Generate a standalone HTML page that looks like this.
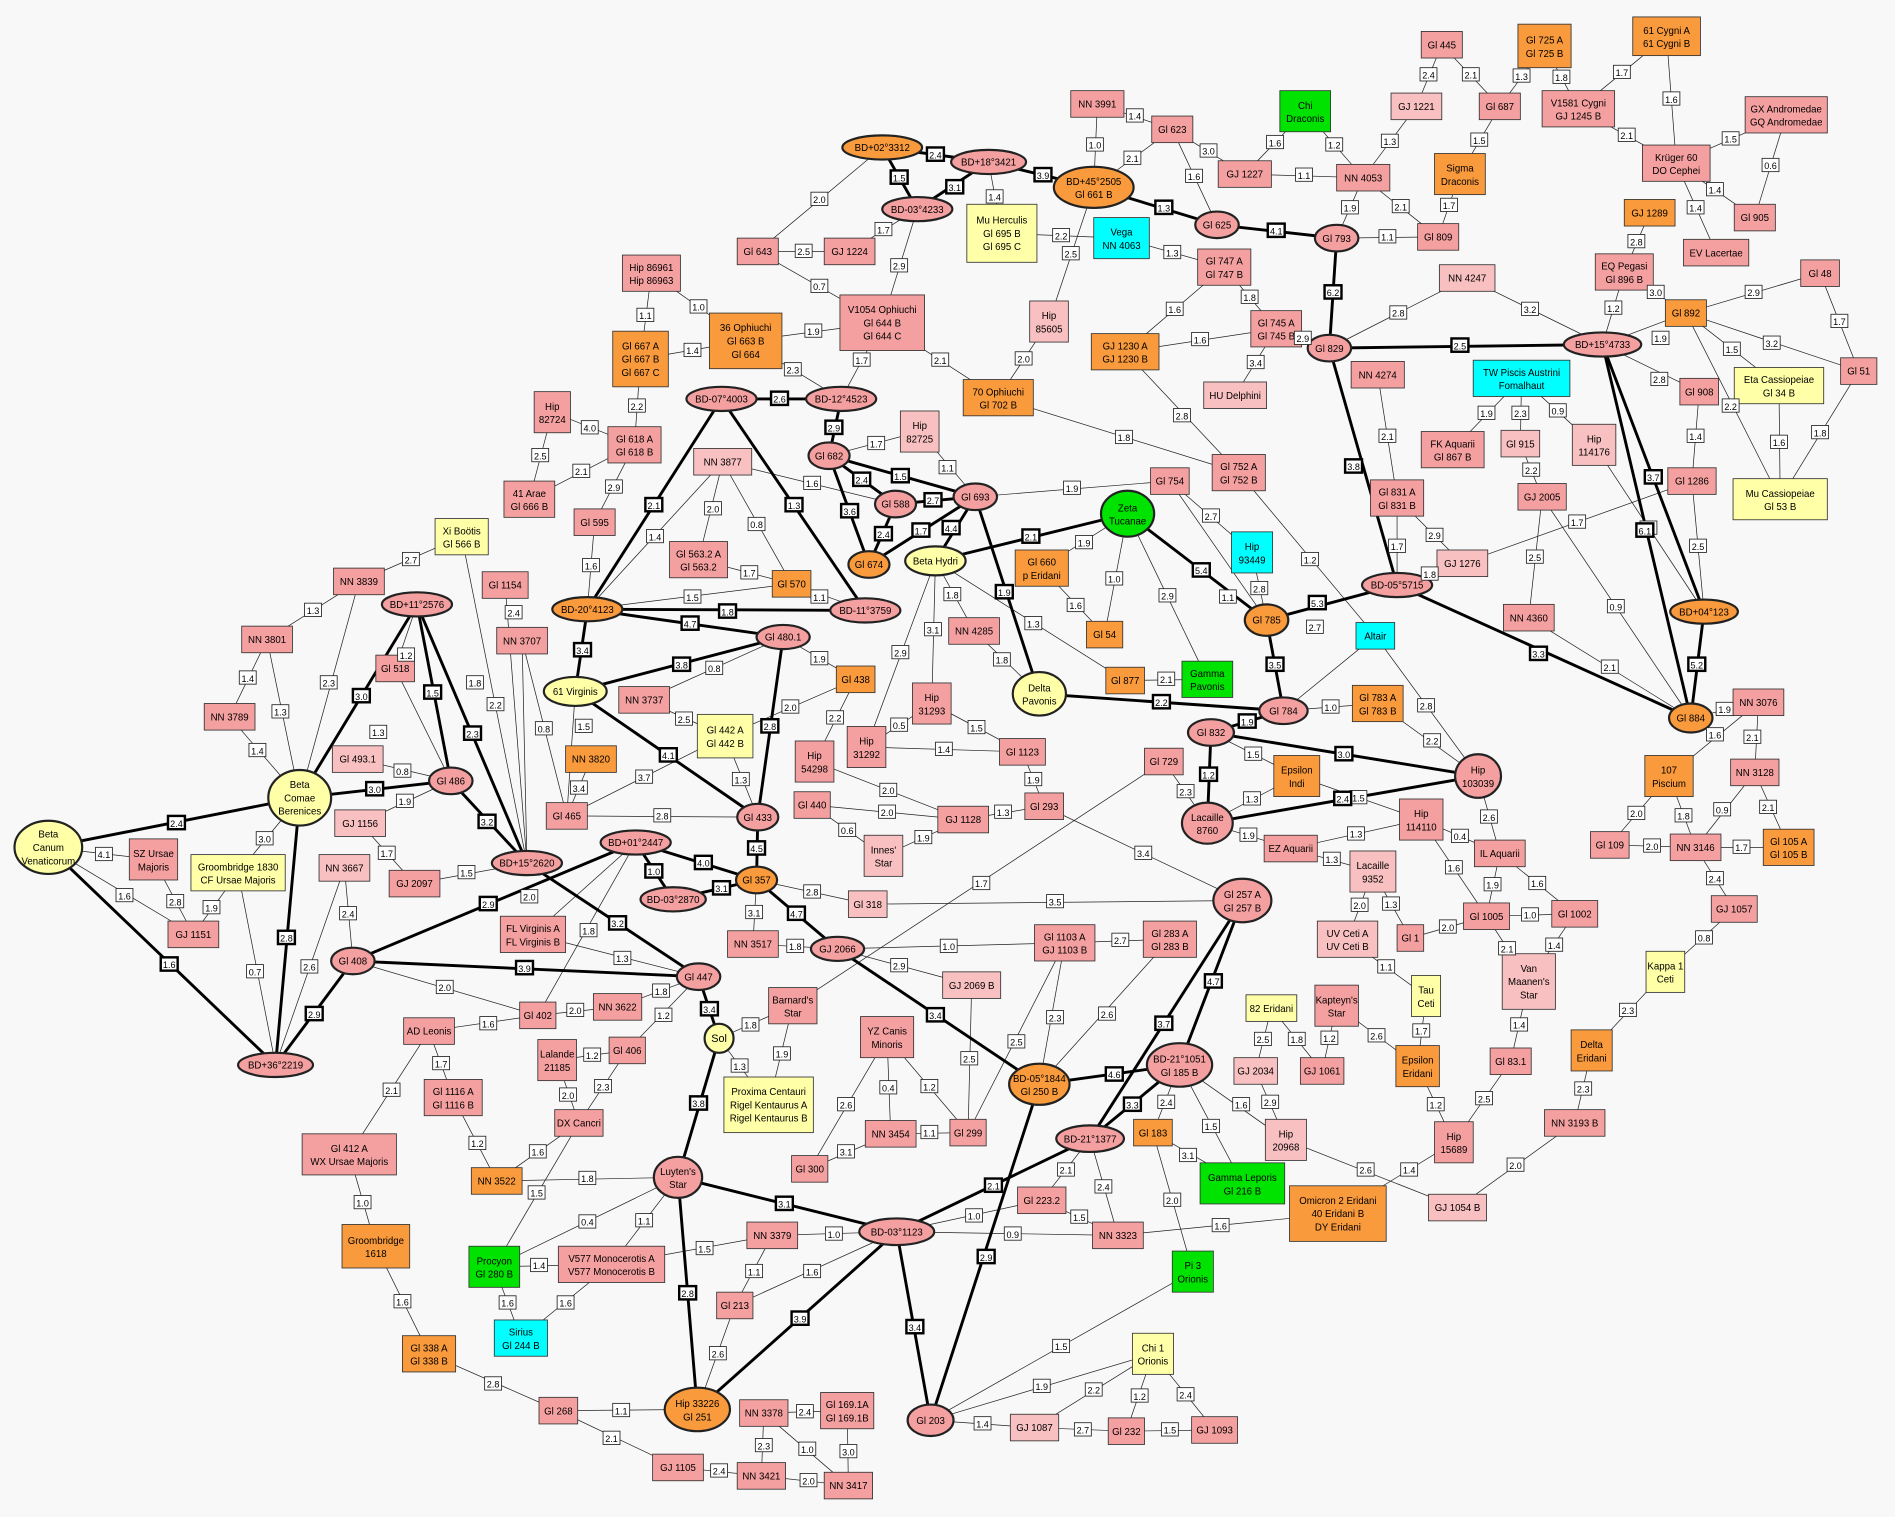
<!DOCTYPE html>
<html><head><meta charset="utf-8"><style>
html,body{margin:0;padding:0;background:#f8f8f8}
svg{display:block}
text{font-family:"Liberation Sans",sans-serif;font-size:8px;text-anchor:middle;fill:#000}
.e line{stroke:#222;stroke-width:.6}
.E line{stroke:#000;stroke-width:2.4}
.l rect{fill:#fff;stroke:#222;stroke-width:.7}
.l text{font-size:7.5px}
.L rect{fill:#fff;stroke:#000;stroke-width:2}
.L text{font-size:7.5px}
.n rect{stroke:#333;stroke-width:.7}
.n ellipse,.n circle{stroke:#222;stroke-width:1.8}
.P{fill:#f5a0a0}.Q{fill:#f8c0c0}.O{fill:#f99a3c}.Y{fill:#ffffa8}.G{fill:#00e200}.C{fill:#00ffff}
</style></head><body>
<svg width="1895" height="1517" viewBox="0 0 1568 1255" preserveAspectRatio="none" xmlns="http://www.w3.org/2000/svg">
<rect width="1568" height="1255" fill="#f8f8f8"/>
<g class="e">
<line x1="1193" y1="37" x2="1241" y2="88"/><line x1="1172" y1="88" x2="1193" y2="37"/><line x1="1278" y1="38" x2="1241" y2="88"/><line x1="1241" y1="88" x2="1208" y2="144"/><line x1="1172" y1="88" x2="1128" y2="147"/><line x1="1278" y1="38" x2="1306" y2="90"/><line x1="1379" y1="30" x2="1306" y2="90"/><line x1="1379" y1="30" x2="1387" y2="135"/><line x1="1306" y1="90" x2="1387" y2="135"/><line x1="1478" y1="95" x2="1387" y2="135"/><line x1="1478" y1="95" x2="1452" y2="180"/><line x1="1387" y1="135" x2="1452" y2="180"/><line x1="1387" y1="135" x2="1420" y2="209"/>
<line x1="908" y1="86" x2="905" y2="155"/><line x1="908" y1="86" x2="970" y2="107"/><line x1="970" y1="107" x2="905" y2="155"/><line x1="970" y1="107" x2="1030" y2="144"/><line x1="970" y1="107" x2="1007" y2="186"/><line x1="1080" y1="92" x2="1030" y2="144"/><line x1="1080" y1="92" x2="1128" y2="147"/><line x1="1030" y1="144" x2="1128" y2="147"/><line x1="1128" y1="147" x2="1106" y2="197"/><line x1="1128" y1="147" x2="1190" y2="196"/><line x1="1208" y1="144" x2="1190" y2="196"/><line x1="1106" y1="197" x2="1190" y2="196"/>
<line x1="730" y1="122" x2="627" y2="208"/><line x1="759" y1="173" x2="703" y2="208"/><line x1="627" y1="208" x2="703" y2="208"/><line x1="627" y1="208" x2="730" y2="267"/><line x1="759" y1="173" x2="730" y2="267"/><line x1="818" y1="134" x2="829" y2="193"/><line x1="829" y1="193" x2="928" y2="197"/><line x1="905" y1="155" x2="868" y2="266"/><line x1="928" y1="197" x2="1013" y2="221"/><line x1="1013" y1="221" x2="1056" y2="272"/><line x1="1013" y1="221" x2="931" y2="291"/><line x1="931" y1="291" x2="1056" y2="272"/><line x1="1056" y1="272" x2="1022" y2="327"/><line x1="1056" y1="272" x2="1100" y2="288"/><line x1="868" y1="266" x2="826" y2="329"/><line x1="730" y1="267" x2="826" y2="329"/><line x1="730" y1="267" x2="617" y2="282"/><line x1="730" y1="267" x2="696" y2="330"/><line x1="617" y1="282" x2="696" y2="330"/><line x1="617" y1="282" x2="530" y2="297"/><line x1="539" y1="226" x2="530" y2="297"/><line x1="539" y1="226" x2="617" y2="282"/><line x1="530" y1="297" x2="525" y2="368"/><line x1="457" y1="341" x2="525" y2="368"/><line x1="457" y1="341" x2="438" y2="413"/><line x1="438" y1="413" x2="525" y2="368"/><line x1="525" y1="368" x2="492" y2="432"/><line x1="492" y1="432" x2="486" y2="504"/><line x1="826" y1="329" x2="1025" y2="391"/><line x1="931" y1="291" x2="1025" y2="391"/>
<line x1="1214" y1="230" x2="1100" y2="288"/><line x1="1214" y1="230" x2="1326" y2="285"/><line x1="1344" y1="225" x2="1365" y2="176"/><line x1="1344" y1="225" x2="1326" y2="285"/><line x1="1344" y1="225" x2="1395" y2="259"/><line x1="1395" y1="259" x2="1326" y2="285"/><line x1="1395" y1="259" x2="1506" y2="226"/><line x1="1506" y1="226" x2="1538" y2="307"/><line x1="1395" y1="259" x2="1538" y2="307"/><line x1="1395" y1="259" x2="1472" y2="319"/><line x1="1395" y1="259" x2="1473" y2="413"/><line x1="1326" y1="285" x2="1406" y2="324"/><line x1="1406" y1="324" x2="1400" y2="398"/><line x1="1472" y1="319" x2="1473" y2="413"/><line x1="1538" y1="307" x2="1473" y2="413"/><line x1="1400" y1="398" x2="1410" y2="506"/><line x1="1210" y1="466" x2="1400" y2="398"/><line x1="1259" y1="313" x2="1202" y2="372"/><line x1="1259" y1="313" x2="1258" y2="367"/><line x1="1259" y1="313" x2="1319" y2="368"/><line x1="1258" y1="367" x2="1276" y2="411"/><line x1="1276" y1="411" x2="1265" y2="511"/><line x1="1140" y1="310" x2="1156" y2="412"/><line x1="1156" y1="412" x2="1156" y2="484"/><line x1="1156" y1="412" x2="1210" y2="466"/><line x1="1210" y1="466" x2="1156" y2="484"/><line x1="1319" y1="368" x2="1410" y2="506"/><line x1="1265" y1="511" x2="1399" y2="594"/><line x1="1276" y1="411" x2="1399" y2="594"/>
<line x1="807" y1="411" x2="968" y2="398"/><line x1="968" y1="398" x2="1036" y2="457"/><line x1="968" y1="398" x2="1048" y2="513"/><line x1="1025" y1="391" x2="1138" y2="526"/><line x1="1036" y1="457" x2="1048" y2="513"/><line x1="933" y1="425" x2="914" y2="525"/><line x1="933" y1="425" x2="862" y2="470"/><line x1="933" y1="425" x2="999" y2="562"/><line x1="862" y1="470" x2="914" y2="525"/><line x1="774" y1="464" x2="931" y2="563"/><line x1="931" y1="563" x2="999" y2="562"/><line x1="1138" y1="526" x2="1062" y2="588"/><line x1="1138" y1="526" x2="1223" y2="642"/><line x1="1140" y1="582" x2="1062" y2="588"/><line x1="1140" y1="582" x2="1223" y2="642"/><line x1="774" y1="464" x2="806" y2="522"/><line x1="806" y1="522" x2="860" y2="574"/><line x1="774" y1="464" x2="771" y2="582"/><line x1="774" y1="464" x2="717" y2="618"/><line x1="771" y1="582" x2="846" y2="622"/><line x1="717" y1="618" x2="846" y2="622"/><line x1="717" y1="618" x2="771" y2="582"/><line x1="846" y1="622" x2="864" y2="667"/><line x1="674" y1="630" x2="708" y2="562"/><line x1="708" y1="562" x2="600" y2="609"/><line x1="674" y1="630" x2="797" y2="678"/><line x1="672" y1="666" x2="797" y2="678"/><line x1="672" y1="666" x2="731" y2="708"/><line x1="731" y1="708" x2="797" y2="678"/><line x1="797" y1="678" x2="864" y2="667"/><line x1="864" y1="667" x2="1028" y2="745"/><line x1="963" y1="630" x2="999" y2="681"/><line x1="963" y1="630" x2="656" y2="832"/><line x1="718" y1="748" x2="1028" y2="745"/><line x1="626" y1="728" x2="718" y2="748"/>
<line x1="999" y1="681" x2="1073" y2="642"/><line x1="999" y1="681" x2="1068" y2="702"/><line x1="1002" y1="606" x2="1073" y2="642"/><line x1="1073" y1="642" x2="1176" y2="678"/><line x1="1068" y1="702" x2="1176" y2="678"/><line x1="1068" y1="702" x2="1136" y2="721"/><line x1="1223" y1="642" x2="1241" y2="706"/><line x1="1176" y1="678" x2="1241" y2="706"/><line x1="1176" y1="678" x2="1230" y2="758"/><line x1="1241" y1="706" x2="1230" y2="758"/><line x1="1241" y1="706" x2="1303" y2="756"/><line x1="1230" y1="758" x2="1303" y2="756"/><line x1="1230" y1="758" x2="1167" y2="776"/><line x1="1136" y1="721" x2="1115" y2="777"/><line x1="1136" y1="721" x2="1167" y2="776"/><line x1="1115" y1="777" x2="1180" y2="824"/><line x1="1230" y1="758" x2="1265" y2="812"/><line x1="1303" y1="756" x2="1265" y2="812"/><line x1="1265" y1="812" x2="1250" y2="878"/><line x1="1180" y1="824" x2="1173" y2="882"/><line x1="1106" y1="832" x2="1173" y2="882"/><line x1="1106" y1="832" x2="1094" y2="886"/><line x1="1052" y1="834" x2="1039" y2="886"/><line x1="1052" y1="834" x2="1094" y2="886"/><line x1="1039" y1="886" x2="1064" y2="943"/><line x1="1173" y1="882" x2="1203" y2="945"/><line x1="1250" y1="878" x2="1203" y2="945"/><line x1="1203" y1="945" x2="1107" y2="1004"/><line x1="1064" y1="943" x2="1206" y2="999"/><line x1="1206" y1="999" x2="1303" y2="929"/><line x1="1303" y1="929" x2="1317" y2="869"/><line x1="1317" y1="869" x2="1378" y2="804"/><line x1="1378" y1="804" x2="1435" y2="752"/><line x1="1435" y1="752" x2="1403" y2="701"/><line x1="1403" y1="701" x2="1332" y2="699"/><line x1="1332" y1="699" x2="1381" y2="642"/><line x1="1381" y1="642" x2="1403" y2="701"/><line x1="1403" y1="701" x2="1480" y2="701"/><line x1="1403" y1="701" x2="1452" y2="639"/><line x1="1452" y1="639" x2="1480" y2="701"/><line x1="1452" y1="639" x2="1455" y2="581"/><line x1="1455" y1="581" x2="1399" y2="594"/><line x1="1381" y1="642" x2="1455" y2="581"/>
<line x1="976" y1="881" x2="954" y2="937"/><line x1="976" y1="881" x2="1064" y2="943"/><line x1="976" y1="881" x2="1028" y2="979"/><line x1="954" y1="937" x2="1028" y2="979"/><line x1="954" y1="937" x2="987" y2="1052"/><line x1="902" y1="942" x2="862" y2="993"/><line x1="902" y1="942" x2="925" y2="1022"/><line x1="742" y1="1019" x2="925" y2="1022"/><line x1="742" y1="1019" x2="862" y2="993"/><line x1="925" y1="1022" x2="862" y2="993"/><line x1="925" y1="1022" x2="1107" y2="1004"/><line x1="770" y1="1175" x2="954" y2="1120"/><line x1="770" y1="1175" x2="987" y2="1052"/><line x1="856" y1="1181" x2="954" y2="1120"/><line x1="954" y1="1120" x2="932" y2="1184"/><line x1="954" y1="1120" x2="1005" y2="1183"/><line x1="770" y1="1175" x2="856" y2="1181"/><line x1="856" y1="1181" x2="932" y2="1184"/><line x1="932" y1="1184" x2="1005" y2="1183"/>
<line x1="693" y1="785" x2="881" y2="780"/><line x1="693" y1="785" x2="804" y2="815"/><line x1="693" y1="785" x2="623" y2="781"/><line x1="626" y1="728" x2="623" y2="781"/><line x1="881" y1="780" x2="968" y2="777"/><line x1="881" y1="780" x2="860" y2="897"/><line x1="881" y1="780" x2="801" y2="937"/><line x1="968" y1="777" x2="860" y2="897"/><line x1="804" y1="815" x2="801" y2="937"/><line x1="734" y1="858" x2="801" y2="937"/><line x1="734" y1="858" x2="737" y2="938"/><line x1="734" y1="858" x2="670" y2="967"/><line x1="737" y1="938" x2="801" y2="937"/><line x1="737" y1="938" x2="670" y2="967"/>
<line x1="656" y1="832" x2="595" y2="859"/><line x1="595" y1="859" x2="636" y2="914"/><line x1="656" y1="832" x2="636" y2="914"/><line x1="578" y1="808" x2="511" y2="833"/><line x1="578" y1="808" x2="519" y2="869"/><line x1="511" y1="833" x2="445" y2="840"/><line x1="292" y1="795" x2="445" y2="840"/><line x1="526" y1="697" x2="445" y2="840"/><line x1="441" y1="773" x2="526" y2="697"/><line x1="441" y1="773" x2="578" y2="808"/><line x1="355" y1="853" x2="445" y2="840"/><line x1="355" y1="853" x2="375" y2="908"/><line x1="355" y1="853" x2="289" y2="955"/><line x1="375" y1="908" x2="411" y2="977"/><line x1="461" y1="877" x2="519" y2="869"/><line x1="461" y1="877" x2="479" y2="929"/><line x1="519" y1="869" x2="479" y2="929"/><line x1="479" y1="929" x2="411" y2="977"/><line x1="479" y1="929" x2="409" y2="1048"/><line x1="411" y1="977" x2="561" y2="974"/><line x1="561" y1="974" x2="409" y2="1048"/><line x1="561" y1="974" x2="506" y2="1046"/><line x1="409" y1="1048" x2="506" y2="1046"/><line x1="409" y1="1048" x2="431" y2="1107"/><line x1="506" y1="1046" x2="431" y2="1107"/><line x1="639" y1="1022" x2="506" y2="1046"/><line x1="639" y1="1022" x2="742" y2="1019"/><line x1="639" y1="1022" x2="608" y2="1080"/><line x1="608" y1="1080" x2="742" y2="1019"/><line x1="608" y1="1080" x2="577" y2="1166"/><line x1="289" y1="955" x2="311" y2="1031"/><line x1="311" y1="1031" x2="355" y2="1120"/><line x1="355" y1="1120" x2="462" y2="1167"/><line x1="462" y1="1167" x2="577" y2="1166"/><line x1="462" y1="1167" x2="561" y2="1214"/><line x1="561" y1="1214" x2="630" y2="1221"/><line x1="630" y1="1221" x2="632" y2="1169"/><line x1="630" y1="1221" x2="702" y2="1229"/><line x1="632" y1="1169" x2="702" y2="1229"/><line x1="632" y1="1169" x2="701" y2="1167"/><line x1="701" y1="1167" x2="702" y2="1229"/>
<line x1="343" y1="731" x2="436" y2="714"/><line x1="418" y1="484" x2="436" y2="714"/><line x1="432" y1="530" x2="436" y2="714"/><line x1="382" y1="444" x2="436" y2="714"/><line x1="373" y1="646" x2="327" y2="553"/><line x1="373" y1="646" x2="296" y2="628"/><line x1="373" y1="646" x2="298" y2="681"/><line x1="345" y1="500" x2="327" y2="553"/><line x1="248" y1="660" x2="297" y2="481"/><line x1="248" y1="660" x2="221" y2="529"/><line x1="221" y1="529" x2="190" y2="593"/><line x1="190" y1="593" x2="248" y2="660"/><line x1="297" y1="481" x2="382" y2="444"/><line x1="248" y1="660" x2="197" y2="722"/><line x1="40" y1="701" x2="127" y2="711"/><line x1="40" y1="701" x2="160" y2="773"/><line x1="127" y1="711" x2="160" y2="773"/><line x1="160" y1="773" x2="197" y2="722"/><line x1="197" y1="722" x2="228" y2="881"/><line x1="285" y1="718" x2="292" y2="795"/><line x1="285" y1="718" x2="228" y2="881"/><line x1="298" y1="681" x2="343" y2="731"/><line x1="297" y1="481" x2="221" y2="529"/>
<line x1="486" y1="504" x2="655" y2="483"/><line x1="598" y1="382" x2="655" y2="483"/><line x1="598" y1="382" x2="578" y2="463"/><line x1="578" y1="463" x2="655" y2="483"/><line x1="655" y1="483" x2="716" y2="505"/><line x1="486" y1="504" x2="598" y2="382"/><line x1="648" y1="527" x2="708" y2="562"/><line x1="533" y1="579" x2="648" y2="527"/><line x1="533" y1="579" x2="600" y2="609"/><line x1="600" y1="609" x2="627" y2="676"/><line x1="469" y1="675" x2="432" y2="530"/><line x1="469" y1="675" x2="627" y2="676"/><line x1="469" y1="675" x2="476" y2="572"/><line x1="469" y1="675" x2="600" y2="609"/><line x1="489" y1="628" x2="469" y2="675"/><line x1="761" y1="357" x2="686" y2="377"/><line x1="761" y1="357" x2="807" y2="411"/><line x1="598" y1="382" x2="741" y2="417"/>
</g>
<g class="E">
<line x1="730" y1="122" x2="818" y2="134"/><line x1="730" y1="122" x2="759" y2="173"/><line x1="818" y1="134" x2="759" y2="173"/><line x1="818" y1="134" x2="905" y2="155"/><line x1="905" y1="155" x2="1007" y2="186"/><line x1="1007" y1="186" x2="1106" y2="197"/><line x1="1106" y1="197" x2="1100" y2="288"/><line x1="1100" y1="288" x2="1326" y2="285"/><line x1="1100" y1="288" x2="1156" y2="484"/><line x1="1326" y1="285" x2="1410" y2="506"/><line x1="1326" y1="285" x2="1399" y2="594"/><line x1="1410" y1="506" x2="1399" y2="594"/><line x1="1156" y1="484" x2="1399" y2="594"/><line x1="1156" y1="484" x2="1048" y2="513"/><line x1="933" y1="425" x2="1048" y2="513"/><line x1="1048" y1="513" x2="1062" y2="588"/><line x1="774" y1="464" x2="933" y2="425"/><line x1="1062" y1="588" x2="860" y2="574"/><line x1="1062" y1="588" x2="1002" y2="606"/><line x1="1002" y1="606" x2="999" y2="681"/><line x1="1002" y1="606" x2="1223" y2="642"/><line x1="999" y1="681" x2="1223" y2="642"/>
<line x1="597" y1="330" x2="696" y2="330"/><line x1="696" y1="330" x2="686" y2="377"/><line x1="597" y1="330" x2="486" y2="504"/><line x1="597" y1="330" x2="716" y2="505"/><line x1="686" y1="377" x2="807" y2="411"/><line x1="686" y1="377" x2="741" y2="417"/><line x1="686" y1="377" x2="719" y2="467"/><line x1="741" y1="417" x2="807" y2="411"/><line x1="741" y1="417" x2="719" y2="467"/><line x1="719" y1="467" x2="807" y2="411"/><line x1="807" y1="411" x2="774" y2="464"/><line x1="807" y1="411" x2="860" y2="574"/><line x1="486" y1="504" x2="716" y2="505"/><line x1="486" y1="504" x2="648" y2="527"/><line x1="486" y1="504" x2="476" y2="572"/><line x1="476" y1="572" x2="648" y2="527"/><line x1="648" y1="527" x2="627" y2="676"/><line x1="476" y1="572" x2="627" y2="676"/><line x1="627" y1="676" x2="626" y2="728"/><line x1="526" y1="697" x2="626" y2="728"/><line x1="526" y1="697" x2="557" y2="744"/><line x1="557" y1="744" x2="626" y2="728"/><line x1="626" y1="728" x2="693" y2="785"/><line x1="526" y1="697" x2="292" y2="795"/><line x1="436" y1="714" x2="578" y2="808"/><line x1="292" y1="795" x2="578" y2="808"/><line x1="292" y1="795" x2="228" y2="881"/><line x1="345" y1="500" x2="248" y2="660"/><line x1="345" y1="500" x2="373" y2="646"/><line x1="345" y1="500" x2="436" y2="714"/><line x1="248" y1="660" x2="228" y2="881"/><line x1="373" y1="646" x2="248" y2="660"/><line x1="373" y1="646" x2="436" y2="714"/><line x1="248" y1="660" x2="40" y2="701"/><line x1="40" y1="701" x2="228" y2="881"/>
<line x1="578" y1="808" x2="595" y2="859"/><line x1="595" y1="859" x2="561" y2="974"/><line x1="561" y1="974" x2="742" y2="1019"/><line x1="561" y1="974" x2="577" y2="1166"/><line x1="742" y1="1019" x2="577" y2="1166"/><line x1="742" y1="1019" x2="770" y2="1175"/><line x1="742" y1="1019" x2="902" y2="942"/><line x1="860" y1="897" x2="770" y2="1175"/><line x1="902" y1="942" x2="976" y2="881"/><line x1="860" y1="897" x2="976" y2="881"/><line x1="693" y1="785" x2="860" y2="897"/><line x1="902" y1="942" x2="1028" y2="745"/><line x1="976" y1="881" x2="1028" y2="745"/>
</g>
<g class="n">
<g transform="translate(1193,37)"><rect x="-17" y="-11" width="34" height="22" class="P"/><text y="3">Gl 445</text></g>
<g transform="translate(1172,88)"><rect x="-21" y="-11" width="42" height="22" class="Q"/><text y="3">GJ 1221</text></g>
<g transform="translate(1241,88)"><rect x="-17" y="-11" width="34" height="22" class="P"/><text y="3">Gl 687</text></g>
<g transform="translate(1278,38)"><rect x="-22" y="-18" width="44" height="36" class="O"/><text y="-2">Gl 725 A</text><text y="9">Gl 725 B</text></g>
<g transform="translate(1379,30)"><rect x="-28" y="-16" width="56" height="32" class="O"/><text y="-2">61 Cygni A</text><text y="9">61 Cygni B</text></g>
<g transform="translate(1306,90)"><rect x="-30" y="-15" width="60" height="30" class="P"/><text y="-2">V1581 Cygni</text><text y="9">GJ 1245 B</text></g>
<g transform="translate(1478,95)"><rect x="-34" y="-15" width="68" height="30" class="P"/><text y="-2">GX Andromedae</text><text y="9">GQ Andromedae</text></g>
<g transform="translate(908,86)"><rect x="-22" y="-11" width="44" height="22" class="P"/><text y="3">NN 3991</text></g>
<g transform="translate(970,107)"><rect x="-17" y="-11" width="34" height="22" class="P"/><text y="3">Gl 623</text></g>
<g transform="translate(1080,92)"><rect x="-21" y="-17" width="42" height="34" class="G"/><text y="-2">Chi</text><text y="9">Draconis</text></g>
<g transform="translate(1030,144)"><rect x="-22" y="-11" width="44" height="22" class="P"/><text y="3">GJ 1227</text></g>
<g transform="translate(1128,147)"><rect x="-22" y="-11" width="44" height="22" class="P"/><text y="3">NN 4053</text></g>
<g transform="translate(1208,144)"><rect x="-21" y="-17" width="42" height="34" class="O"/><text y="-2">Sigma</text><text y="9">Draconis</text></g>
<g transform="translate(1387,135)"><rect x="-28" y="-15" width="56" height="30" class="P"/><text y="-2">Krüger 60</text><text y="9">DO Cephei</text></g>
<g transform="translate(1452,180)"><rect x="-17" y="-11" width="34" height="22" class="P"/><text y="3">Gl 905</text></g>
<g transform="translate(730,122)"><ellipse rx="33" ry="10" class="O"/><text y="3">BD+02°3312</text></g>
<g transform="translate(818,134)"><ellipse rx="31" ry="10" class="P"/><text y="3">BD+18°3421</text></g>
<g transform="translate(905,155)"><ellipse rx="33" ry="17" class="O"/><text y="-2">BD+45°2505</text><text y="9">Gl 661 B</text></g>
<g transform="translate(759,173)"><ellipse rx="29" ry="10" class="P"/><text y="3">BD-03°4233</text></g>
<g transform="translate(829,193)"><rect x="-29" y="-24" width="58" height="48" class="Y"/><text y="-8">Mu Herculis</text><text y="3">Gl 695 B</text><text y="14">Gl 695 C</text></g>
<g transform="translate(928,197)"><rect x="-23" y="-17" width="46" height="34" class="C"/><text y="-2">Vega</text><text y="9">NN 4063</text></g>
<g transform="translate(1007,186)"><ellipse rx="18" ry="11" class="P"/><text y="3">Gl 625</text></g>
<g transform="translate(1106,197)"><ellipse rx="18" ry="11" class="P"/><text y="3">Gl 793</text></g>
<g transform="translate(1190,196)"><rect x="-17" y="-11" width="34" height="22" class="P"/><text y="3">Gl 809</text></g>
<g transform="translate(627,208)"><rect x="-17" y="-11" width="34" height="22" class="P"/><text y="3">Gl 643</text></g>
<g transform="translate(703,208)"><rect x="-21" y="-11" width="42" height="22" class="P"/><text y="3">GJ 1224</text></g>
<g transform="translate(730,267)"><rect x="-35" y="-23" width="70" height="46" class="P"/><text y="-8">V1054 Ophiuchi</text><text y="3">Gl 644 B</text><text y="14">Gl 644 C</text></g>
<g transform="translate(1013,221)"><rect x="-22" y="-15" width="44" height="30" class="P"/><text y="-2">Gl 747 A</text><text y="9">Gl 747 B</text></g>
<g transform="translate(1365,176)"><rect x="-21" y="-11" width="42" height="22" class="O"/><text y="3">GJ 1289</text></g>
<g transform="translate(1420,209)"><rect x="-27" y="-11" width="54" height="22" class="P"/><text y="3">EV Lacertae</text></g>
<g transform="translate(1344,225)"><rect x="-24" y="-15" width="48" height="30" class="P"/><text y="-2">EQ Pegasi</text><text y="9">Gl 896 B</text></g>
<g transform="translate(1506,226)"><rect x="-16" y="-11" width="32" height="22" class="P"/><text y="3">Gl 48</text></g>
<g transform="translate(1214,230)"><rect x="-23" y="-11" width="46" height="22" class="Q"/><text y="3">NN 4247</text></g>
<g transform="translate(539,226)"><rect x="-24" y="-15" width="48" height="30" class="P"/><text y="-2">Hip 86961</text><text y="9">Hip 86963</text></g>
<g transform="translate(617,282)"><rect x="-30" y="-23" width="60" height="46" class="O"/><text y="-8">36 Ophiuchi</text><text y="3">Gl 663 B</text><text y="14">Gl 664</text></g>
<g transform="translate(530,297)"><rect x="-23" y="-23" width="46" height="46" class="O"/><text y="-8">Gl 667 A</text><text y="3">Gl 667 B</text><text y="14">Gl 667 C</text></g>
<g transform="translate(1395,259)"><rect x="-17" y="-11" width="34" height="22" class="O"/><text y="3">Gl 892</text></g>
<g transform="translate(868,266)"><rect x="-16" y="-17" width="32" height="34" class="Q"/><text y="-2">Hip</text><text y="9">85605</text></g>
<g transform="translate(1056,272)"><rect x="-21" y="-15" width="42" height="30" class="P"/><text y="-2">Gl 745 A</text><text y="9">Gl 745 B</text></g>
<g transform="translate(931,291)"><rect x="-28" y="-15" width="56" height="30" class="O"/><text y="-2">GJ 1230 A</text><text y="9">GJ 1230 B</text></g>
<g transform="translate(1100,288)"><ellipse rx="18" ry="11" class="P"/><text y="3">Gl 829</text></g>
<g transform="translate(1326,285)"><ellipse rx="32" ry="10" class="P"/><text y="3">BD+15°4733</text></g>
<g transform="translate(1259,313)"><rect x="-40" y="-15" width="80" height="30" class="C"/><text y="-2">TW Piscis Austrini</text><text y="9">Fomalhaut</text></g>
<g transform="translate(1472,319)"><rect x="-37" y="-15" width="74" height="30" class="Y"/><text y="-2">Eta Cassiopeiae</text><text y="9">Gl 34 B</text></g>
<g transform="translate(1538,307)"><rect x="-15" y="-11" width="30" height="22" class="P"/><text y="3">Gl 51</text></g>
<g transform="translate(1406,324)"><rect x="-16" y="-11" width="32" height="22" class="P"/><text y="3">Gl 908</text></g>
<g transform="translate(1022,327)"><rect x="-26" y="-11" width="52" height="22" class="Q"/><text y="3">HU Delphini</text></g>
<g transform="translate(826,329)"><rect x="-29" y="-15" width="58" height="30" class="O"/><text y="-2">70 Ophiuchi</text><text y="9">Gl 702 B</text></g>
<g transform="translate(1140,310)"><rect x="-22" y="-11" width="44" height="22" class="P"/><text y="3">NN 4274</text></g>
<g transform="translate(457,341)"><rect x="-15" y="-17" width="30" height="34" class="P"/><text y="-2">Hip</text><text y="9">82724</text></g>
<g transform="translate(597,330)"><ellipse rx="29" ry="10" class="P"/><text y="3">BD-07°4003</text></g>
<g transform="translate(696,330)"><ellipse rx="29" ry="10" class="P"/><text y="3">BD-12°4523</text></g>
<g transform="translate(525,368)"><rect x="-22" y="-15" width="44" height="30" class="P"/><text y="-2">Gl 618 A</text><text y="9">Gl 618 B</text></g>
<g transform="translate(761,357)"><rect x="-16" y="-17" width="32" height="34" class="Q"/><text y="-2">Hip</text><text y="9">82725</text></g>
<g transform="translate(686,377)"><ellipse rx="17" ry="11" class="P"/><text y="3">Gl 682</text></g>
<g transform="translate(598,382)"><rect x="-24" y="-11" width="48" height="22" class="Q"/><text y="3">NN 3877</text></g>
<g transform="translate(1202,372)"><rect x="-26" y="-15" width="52" height="30" class="P"/><text y="-2">FK Aquarii</text><text y="9">Gl 867 B</text></g>
<g transform="translate(1258,367)"><rect x="-16" y="-11" width="32" height="22" class="Q"/><text y="3">Gl 915</text></g>
<g transform="translate(1319,368)"><rect x="-18" y="-17" width="36" height="34" class="Q"/><text y="-2">Hip</text><text y="9">114176</text></g>
<g transform="translate(438,413)"><rect x="-21" y="-15" width="42" height="30" class="P"/><text y="-2">41 Arae</text><text y="9">Gl 666 B</text></g>
<g transform="translate(492,432)"><rect x="-17" y="-11" width="34" height="22" class="P"/><text y="3">Gl 595</text></g>
<g transform="translate(741,417)"><ellipse rx="17" ry="11" class="P"/><text y="3">Gl 588</text></g>
<g transform="translate(807,411)"><ellipse rx="18" ry="11" class="P"/><text y="3">Gl 693</text></g>
<g transform="translate(968,398)"><rect x="-16" y="-11" width="32" height="22" class="P"/><text y="3">Gl 754</text></g>
<g transform="translate(1025,391)"><rect x="-22" y="-15" width="44" height="30" class="P"/><text y="-2">Gl 752 A</text><text y="9">Gl 752 B</text></g>
<g transform="translate(933,425)"><ellipse rx="22" ry="19" class="G"/><text y="-2">Zeta</text><text y="9">Tucanae</text></g>
<g transform="translate(1156,412)"><rect x="-22" y="-15" width="44" height="30" class="P"/><text y="-2">Gl 831 A</text><text y="9">Gl 831 B</text></g>
<g transform="translate(1276,411)"><rect x="-20" y="-11" width="40" height="22" class="P"/><text y="3">GJ 2005</text></g>
<g transform="translate(1400,398)"><rect x="-20" y="-11" width="40" height="22" class="P"/><text y="3">Gl 1286</text></g>
<g transform="translate(1473,413)"><rect x="-39" y="-17" width="78" height="34" class="Y"/><text y="-2">Mu Cassiopeiae</text><text y="9">Gl 53 B</text></g>
<g transform="translate(382,444)"><rect x="-22" y="-15" width="44" height="30" class="Y"/><text y="-2">Xi Boötis</text><text y="9">Gl 566 B</text></g>
<g transform="translate(578,463)"><rect x="-24" y="-15" width="48" height="30" class="P"/><text y="-2">Gl 563.2 A</text><text y="9">Gl 563.2</text></g>
<g transform="translate(719,467)"><ellipse rx="17" ry="11" class="O"/><text y="3">Gl 674</text></g>
<g transform="translate(774,464)"><ellipse rx="25" ry="12" class="Y"/><text y="3">Beta Hydri</text></g>
<g transform="translate(862,470)"><rect x="-22" y="-15" width="44" height="30" class="O"/><text y="-2">Gl 660</text><text y="9">p Eridani</text></g>
<g transform="translate(1036,457)"><rect x="-17" y="-17" width="34" height="34" class="C"/><text y="-2">Hip</text><text y="9">93449</text></g>
<g transform="translate(1210,466)"><rect x="-21" y="-11" width="42" height="22" class="Q"/><text y="3">GJ 1276</text></g>
<g transform="translate(297,481)"><rect x="-21" y="-11" width="42" height="22" class="P"/><text y="3">NN 3839</text></g>
<g transform="translate(345,500)"><ellipse rx="29" ry="10" class="P"/><text y="3">BD+11°2576</text></g>
<g transform="translate(418,484)"><rect x="-19" y="-11" width="38" height="22" class="P"/><text y="3">Gl 1154</text></g>
<g transform="translate(655,483)"><rect x="-16" y="-11" width="32" height="22" class="O"/><text y="3">Gl 570</text></g>
<g transform="translate(486,504)"><ellipse rx="29" ry="10" class="O"/><text y="3">BD-20°4123</text></g>
<g transform="translate(716,505)"><ellipse rx="29" ry="10" class="P"/><text y="3">BD-11°3759</text></g>
<g transform="translate(1156,484)"><ellipse rx="29" ry="10" class="P"/><text y="3">BD-05°5715</text></g>
<g transform="translate(1048,513)"><ellipse rx="18" ry="13" class="O"/><text y="3">Gl 785</text></g>
<g transform="translate(1265,511)"><rect x="-21" y="-11" width="42" height="22" class="P"/><text y="3">NN 4360</text></g>
<g transform="translate(1410,506)"><ellipse rx="28" ry="10" class="O"/><text y="3">BD+04°123</text></g>
<g transform="translate(221,529)"><rect x="-21" y="-11" width="42" height="22" class="P"/><text y="3">NN 3801</text></g>
<g transform="translate(432,530)"><rect x="-21" y="-11" width="42" height="22" class="P"/><text y="3">NN 3707</text></g>
<g transform="translate(648,527)"><ellipse rx="22" ry="10" class="P"/><text y="3">Gl 480.1</text></g>
<g transform="translate(806,522)"><rect x="-21" y="-11" width="42" height="22" class="P"/><text y="3">NN 4285</text></g>
<g transform="translate(914,525)"><rect x="-15" y="-11" width="30" height="22" class="O"/><text y="3">Gl 54</text></g>
<g transform="translate(1138,526)"><rect x="-16" y="-11" width="32" height="22" class="C"/><text y="3">Altair</text></g>
<g transform="translate(327,553)"><rect x="-16" y="-11" width="32" height="22" class="P"/><text y="3">Gl 518</text></g>
<g transform="translate(476,572)"><ellipse rx="26" ry="12" class="Y"/><text y="3">61 Virginis</text></g>
<g transform="translate(533,579)"><rect x="-21" y="-11" width="42" height="22" class="P"/><text y="3">NN 3737</text></g>
<g transform="translate(708,562)"><rect x="-16" y="-11" width="32" height="22" class="O"/><text y="3">Gl 438</text></g>
<g transform="translate(860,574)"><ellipse rx="22" ry="18" class="Y"/><text y="-2">Delta</text><text y="9">Pavonis</text></g>
<g transform="translate(931,563)"><rect x="-16" y="-11" width="32" height="22" class="O"/><text y="3">Gl 877</text></g>
<g transform="translate(999,562)"><rect x="-21" y="-15" width="42" height="30" class="G"/><text y="-2">Gamma</text><text y="9">Pavonis</text></g>
<g transform="translate(1062,588)"><ellipse rx="20" ry="11" class="P"/><text y="3">Gl 784</text></g>
<g transform="translate(1140,582)"><rect x="-21" y="-15" width="42" height="30" class="O"/><text y="-2">Gl 783 A</text><text y="9">Gl 783 B</text></g>
<g transform="translate(190,593)"><rect x="-21" y="-11" width="42" height="22" class="P"/><text y="3">NN 3789</text></g>
<g transform="translate(771,582)"><rect x="-16" y="-17" width="32" height="34" class="P"/><text y="-2">Hip</text><text y="9">31293</text></g>
<g transform="translate(600,609)"><rect x="-23" y="-18" width="46" height="36" class="Y"/><text y="-2">Gl 442 A</text><text y="9">Gl 442 B</text></g>
<g transform="translate(1399,594)"><ellipse rx="18" ry="12" class="O"/><text y="3">Gl 884</text></g>
<g transform="translate(1455,581)"><rect x="-21" y="-11" width="42" height="22" class="P"/><text y="3">NN 3076</text></g>
<g transform="translate(296,628)"><rect x="-21" y="-11" width="42" height="22" class="Q"/><text y="3">Gl 493.1</text></g>
<g transform="translate(373,646)"><ellipse rx="18" ry="11" class="P"/><text y="3">Gl 486</text></g>
<g transform="translate(489,628)"><rect x="-21" y="-11" width="42" height="22" class="O"/><text y="3">NN 3820</text></g>
<g transform="translate(674,630)"><rect x="-16" y="-17" width="32" height="34" class="P"/><text y="-2">Hip</text><text y="9">54298</text></g>
<g transform="translate(717,618)"><rect x="-16" y="-17" width="32" height="34" class="P"/><text y="-2">Hip</text><text y="9">31292</text></g>
<g transform="translate(846,622)"><rect x="-19" y="-11" width="38" height="22" class="P"/><text y="3">Gl 1123</text></g>
<g transform="translate(963,630)"><rect x="-16" y="-11" width="32" height="22" class="P"/><text y="3">Gl 729</text></g>
<g transform="translate(1002,606)"><ellipse rx="19" ry="11" class="P"/><text y="3">Gl 832</text></g>
<g transform="translate(1073,642)"><rect x="-19" y="-17" width="38" height="34" class="O"/><text y="-2">Epsilon</text><text y="9">Indi</text></g>
<g transform="translate(1223,642)"><ellipse rx="19" ry="18" class="P"/><text y="-2">Hip</text><text y="9">103039</text></g>
<g transform="translate(1381,642)"><rect x="-20" y="-17" width="40" height="34" class="O"/><text y="-2">107</text><text y="9">Piscium</text></g>
<g transform="translate(1452,639)"><rect x="-20" y="-11" width="40" height="22" class="P"/><text y="3">NN 3128</text></g>
<g transform="translate(248,660)"><ellipse rx="26" ry="23" class="Y"/><text y="-8">Beta</text><text y="3">Comae</text><text y="14">Berenices</text></g>
<g transform="translate(672,666)"><rect x="-15" y="-11" width="30" height="22" class="P"/><text y="3">Gl 440</text></g>
<g transform="translate(864,667)"><rect x="-16" y="-11" width="32" height="22" class="P"/><text y="3">Gl 293</text></g>
<g transform="translate(999,681)"><ellipse rx="21" ry="17" class="P"/><text y="-2">Lacaille</text><text y="9">8760</text></g>
<g transform="translate(469,675)"><rect x="-17" y="-11" width="34" height="22" class="P"/><text y="3">Gl 465</text></g>
<g transform="translate(627,676)"><ellipse rx="17" ry="11" class="P"/><text y="3">Gl 433</text></g>
<g transform="translate(797,678)"><rect x="-21" y="-11" width="42" height="22" class="P"/><text y="3">GJ 1128</text></g>
<g transform="translate(298,681)"><rect x="-21" y="-11" width="42" height="22" class="Q"/><text y="3">GJ 1156</text></g>
<g transform="translate(1176,678)"><rect x="-18" y="-17" width="36" height="34" class="P"/><text y="-2">Hip</text><text y="9">114110</text></g>
<g transform="translate(40,701)"><ellipse rx="28" ry="22" class="Y"/><text y="-8">Beta</text><text y="3">Canum</text><text y="14">Venaticorum</text></g>
<g transform="translate(127,711)"><rect x="-20" y="-17" width="40" height="34" class="P"/><text y="-2">SZ Ursae</text><text y="9">Majoris</text></g>
<g transform="translate(197,722)"><rect x="-39" y="-15" width="78" height="30" class="Y"/><text y="-2">Groombridge 1830</text><text y="9">CF Ursae Majoris</text></g>
<g transform="translate(731,708)"><rect x="-16" y="-17" width="32" height="34" class="Q"/><text y="-2">Innes'</text><text y="9">Star</text></g>
<g transform="translate(1068,702)"><rect x="-22" y="-11" width="44" height="22" class="P"/><text y="3">EZ Aquarii</text></g>
<g transform="translate(1332,699)"><rect x="-16" y="-11" width="32" height="22" class="P"/><text y="3">Gl 109</text></g>
<g transform="translate(1403,701)"><rect x="-21" y="-11" width="42" height="22" class="P"/><text y="3">NN 3146</text></g>
<g transform="translate(1480,701)"><rect x="-21" y="-15" width="42" height="30" class="O"/><text y="-2">Gl 105 A</text><text y="9">Gl 105 B</text></g>
<g transform="translate(526,697)"><ellipse rx="29" ry="10" class="P"/><text y="3">BD+01°2447</text></g>
<g transform="translate(1241,706)"><rect x="-21" y="-11" width="42" height="22" class="P"/><text y="3">IL Aquarii</text></g>
<g transform="translate(285,718)"><rect x="-21" y="-11" width="42" height="22" class="Q"/><text y="3">NN 3667</text></g>
<g transform="translate(343,731)"><rect x="-21" y="-11" width="42" height="22" class="P"/><text y="3">GJ 2097</text></g>
<g transform="translate(436,714)"><ellipse rx="29" ry="10" class="P"/><text y="3">BD+15°2620</text></g>
<g transform="translate(1136,721)"><rect x="-19" y="-17" width="38" height="34" class="Q"/><text y="-2">Lacaille</text><text y="9">9352</text></g>
<g transform="translate(626,728)"><ellipse rx="17" ry="11" class="O"/><text y="3">Gl 357</text></g>
<g transform="translate(557,744)"><ellipse rx="27" ry="10" class="P"/><text y="3">BD-03°2870</text></g>
<g transform="translate(718,748)"><rect x="-16" y="-11" width="32" height="22" class="Q"/><text y="3">Gl 318</text></g>
<g transform="translate(1028,745)"><ellipse rx="24" ry="18" class="P"/><text y="-2">Gl 257 A</text><text y="9">Gl 257 B</text></g>
<g transform="translate(441,773)"><rect x="-27" y="-15" width="54" height="30" class="P"/><text y="-2">FL Virginis A</text><text y="9">FL Virginis B</text></g>
<g transform="translate(160,773)"><rect x="-21" y="-11" width="42" height="22" class="P"/><text y="3">GJ 1151</text></g>
<g transform="translate(1435,752)"><rect x="-19" y="-11" width="38" height="22" class="P"/><text y="3">GJ 1057</text></g>
<g transform="translate(1115,777)"><rect x="-25" y="-15" width="50" height="30" class="Q"/><text y="-2">UV Ceti A</text><text y="9">UV Ceti B</text></g>
<g transform="translate(1167,776)"><rect x="-11" y="-11" width="22" height="22" class="P"/><text y="3">Gl 1</text></g>
<g transform="translate(1230,758)"><rect x="-19" y="-11" width="38" height="22" class="P"/><text y="3">Gl 1005</text></g>
<g transform="translate(1303,756)"><rect x="-19" y="-11" width="38" height="22" class="P"/><text y="3">Gl 1002</text></g>
<g transform="translate(623,781)"><rect x="-21" y="-11" width="42" height="22" class="P"/><text y="3">NN 3517</text></g>
<g transform="translate(693,785)"><ellipse rx="22" ry="10" class="P"/><text y="3">GJ 2066</text></g>
<g transform="translate(881,780)"><rect x="-25" y="-15" width="50" height="30" class="P"/><text y="-2">Gl 1103 A</text><text y="9">GJ 1103 B</text></g>
<g transform="translate(968,777)"><rect x="-22" y="-15" width="44" height="30" class="P"/><text y="-2">Gl 283 A</text><text y="9">Gl 283 B</text></g>
<g transform="translate(292,795)"><ellipse rx="18" ry="11" class="P"/><text y="3">Gl 408</text></g>
<g transform="translate(578,808)"><ellipse rx="18" ry="11" class="P"/><text y="3">Gl 447</text></g>
<g transform="translate(804,815)"><rect x="-24" y="-11" width="48" height="22" class="Q"/><text y="3">GJ 2069 B</text></g>
<g transform="translate(1378,804)"><rect x="-16" y="-17" width="32" height="34" class="Y"/><text y="-2">Kappa 1</text><text y="9">Ceti</text></g>
<g transform="translate(1265,812)"><rect x="-22" y="-23" width="44" height="46" class="Q"/><text y="-8">Van</text><text y="3">Maanen's</text><text y="14">Star</text></g>
<g transform="translate(656,832)"><rect x="-20" y="-15" width="40" height="30" class="P"/><text y="-2">Barnard's</text><text y="9">Star</text></g>
<g transform="translate(511,833)"><rect x="-20" y="-11" width="40" height="22" class="P"/><text y="3">NN 3622</text></g>
<g transform="translate(445,840)"><rect x="-15" y="-11" width="30" height="22" class="P"/><text y="3">Gl 402</text></g>
<g transform="translate(355,853)"><rect x="-21" y="-11" width="42" height="22" class="P"/><text y="3">AD Leonis</text></g>
<g transform="translate(1052,834)"><rect x="-21" y="-11" width="42" height="22" class="Y"/><text y="3">82 Eridani</text></g>
<g transform="translate(1106,832)"><rect x="-18" y="-17" width="36" height="34" class="P"/><text y="-2">Kapteyn's</text><text y="9">Star</text></g>
<g transform="translate(1180,824)"><rect x="-12" y="-17" width="24" height="34" class="Y"/><text y="-2">Tau</text><text y="9">Ceti</text></g>
<g transform="translate(595,859)"><circle r="12" class="Y"/><text y="3" style="font-size:9px">Sol</text></g>
<g transform="translate(734,858)"><rect x="-22" y="-17" width="44" height="34" class="P"/><text y="-2">YZ Canis</text><text y="9">Minoris</text></g>
<g transform="translate(461,877)"><rect x="-16" y="-17" width="32" height="34" class="P"/><text y="-2">Lalande</text><text y="9">21185</text></g>
<g transform="translate(519,869)"><rect x="-15" y="-11" width="30" height="22" class="P"/><text y="3">Gl 406</text></g>
<g transform="translate(1039,886)"><rect x="-18" y="-11" width="36" height="22" class="Q"/><text y="3">GJ 2034</text></g>
<g transform="translate(1094,886)"><rect x="-18" y="-11" width="36" height="22" class="P"/><text y="3">GJ 1061</text></g>
<g transform="translate(1173,882)"><rect x="-18" y="-17" width="36" height="34" class="O"/><text y="-2">Epsilon</text><text y="9">Eridani</text></g>
<g transform="translate(1317,869)"><rect x="-17" y="-17" width="34" height="34" class="O"/><text y="-2">Delta</text><text y="9">Eridani</text></g>
<g transform="translate(1250,878)"><rect x="-17" y="-11" width="34" height="22" class="P"/><text y="3">Gl 83.1</text></g>
<g transform="translate(375,908)"><rect x="-24" y="-15" width="48" height="30" class="P"/><text y="-2">Gl 1116 A</text><text y="9">Gl 1116 B</text></g>
<g transform="translate(636,914)"><rect x="-37" y="-23" width="74" height="46" class="Y"/><text y="-8">Proxima Centauri</text><text y="3">Rigel Kentaurus A</text><text y="14">Rigel Kentaurus B</text></g>
<g transform="translate(860,897)"><ellipse rx="25" ry="17" class="O"/><text y="-2">BD-05°1844</text><text y="9">Gl 250 B</text></g>
<g transform="translate(976,881)"><ellipse rx="27" ry="18" class="P"/><text y="-2">BD-21°1051</text><text y="9">Gl 185 B</text></g>
<g transform="translate(479,929)"><rect x="-20" y="-11" width="40" height="22" class="P"/><text y="3">DX Cancri</text></g>
<g transform="translate(1064,943)"><rect x="-17" y="-17" width="34" height="34" class="Q"/><text y="-2">Hip</text><text y="9">20968</text></g>
<g transform="translate(902,942)"><ellipse rx="28" ry="11" class="P"/><text y="3">BD-21°1377</text></g>
<g transform="translate(954,937)"><rect x="-16" y="-11" width="32" height="22" class="O"/><text y="3">Gl 183</text></g>
<g transform="translate(737,938)"><rect x="-21" y="-11" width="42" height="22" class="P"/><text y="3">NN 3454</text></g>
<g transform="translate(801,937)"><rect x="-15" y="-11" width="30" height="22" class="P"/><text y="3">Gl 299</text></g>
<g transform="translate(1203,945)"><rect x="-16" y="-17" width="32" height="34" class="P"/><text y="-2">Hip</text><text y="9">15689</text></g>
<g transform="translate(1303,929)"><rect x="-25" y="-11" width="50" height="22" class="P"/><text y="3">NN 3193 B</text></g>
<g transform="translate(289,955)"><rect x="-39" y="-17" width="78" height="34" class="P"/><text y="-2">Gl 412 A</text><text y="9">WX Ursae Majoris</text></g>
<g transform="translate(670,967)"><rect x="-15" y="-11" width="30" height="22" class="P"/><text y="3">Gl 300</text></g>
<g transform="translate(561,974)"><ellipse rx="20" ry="17" class="P"/><text y="-2">Luyten's</text><text y="9">Star</text></g>
<g transform="translate(411,977)"><rect x="-21" y="-11" width="42" height="22" class="O"/><text y="3">NN 3522</text></g>
<g transform="translate(1028,979)"><rect x="-35" y="-17" width="70" height="34" class="G"/><text y="-2">Gamma Leporis</text><text y="9">Gl 216 B</text></g>
<g transform="translate(862,993)"><rect x="-20" y="-11" width="40" height="22" class="P"/><text y="3">Gl 223.2</text></g>
<g transform="translate(1206,999)"><rect x="-24" y="-11" width="48" height="22" class="Q"/><text y="3">GJ 1054 B</text></g>
<g transform="translate(1107,1004)"><rect x="-40" y="-23" width="80" height="46" class="O"/><text y="-8">Omicron 2 Eridani</text><text y="3">40 Eridani B</text><text y="14">DY Eridani</text></g>
<g transform="translate(639,1022)"><rect x="-21" y="-11" width="42" height="22" class="P"/><text y="3">NN 3379</text></g>
<g transform="translate(742,1019)"><ellipse rx="31" ry="11" class="P"/><text y="3">BD-03°1123</text></g>
<g transform="translate(925,1022)"><rect x="-21" y="-11" width="42" height="22" class="P"/><text y="3">NN 3323</text></g>
<g transform="translate(311,1031)"><rect x="-28" y="-18" width="56" height="36" class="O"/><text y="-2">Groombridge</text><text y="9">1618</text></g>
<g transform="translate(409,1048)"><rect x="-21" y="-17" width="42" height="34" class="G"/><text y="-2">Procyon</text><text y="9">Gl 280 B</text></g>
<g transform="translate(506,1046)"><rect x="-44" y="-15" width="88" height="30" class="P"/><text y="-2">V577 Monocerotis A</text><text y="9">V577 Monocerotis B</text></g>
<g transform="translate(987,1052)"><rect x="-17" y="-17" width="34" height="34" class="G"/><text y="-2">Pi 3</text><text y="9">Orionis</text></g>
<g transform="translate(608,1080)"><rect x="-15" y="-11" width="30" height="22" class="P"/><text y="3">Gl 213</text></g>
<g transform="translate(431,1107)"><rect x="-22" y="-15" width="44" height="30" class="C"/><text y="-2">Sirius</text><text y="9">Gl 244 B</text></g>
<g transform="translate(355,1120)"><rect x="-22" y="-15" width="44" height="30" class="O"/><text y="-2">Gl 338 A</text><text y="9">Gl 338 B</text></g>
<g transform="translate(954,1120)"><rect x="-17" y="-17" width="34" height="34" class="Y"/><text y="-2">Chi 1</text><text y="9">Orionis</text></g>
<g transform="translate(462,1167)"><rect x="-16" y="-11" width="32" height="22" class="P"/><text y="3">Gl 268</text></g>
<g transform="translate(577,1166)"><ellipse rx="27" ry="18" class="O"/><text y="-2">Hip 33226</text><text y="9">Gl 251</text></g>
<g transform="translate(632,1169)"><rect x="-20" y="-11" width="40" height="22" class="P"/><text y="3">NN 3378</text></g>
<g transform="translate(701,1167)"><rect x="-22" y="-15" width="44" height="30" class="P"/><text y="-2">Gl 169.1A</text><text y="9">Gl 169.1B</text></g>
<g transform="translate(770,1175)"><ellipse rx="19" ry="13" class="P"/><text y="3">Gl 203</text></g>
<g transform="translate(856,1181)"><rect x="-20" y="-11" width="40" height="22" class="Q"/><text y="3">GJ 1087</text></g>
<g transform="translate(932,1184)"><rect x="-15" y="-11" width="30" height="22" class="P"/><text y="3">Gl 232</text></g>
<g transform="translate(1005,1183)"><rect x="-19" y="-11" width="38" height="22" class="P"/><text y="3">GJ 1093</text></g>
<g transform="translate(561,1214)"><rect x="-21" y="-11" width="42" height="22" class="P"/><text y="3">GJ 1105</text></g>
<g transform="translate(630,1221)"><rect x="-20" y="-11" width="40" height="22" class="P"/><text y="3">NN 3421</text></g>
<g transform="translate(702,1229)"><rect x="-20" y="-11" width="40" height="22" class="P"/><text y="3">NN 3417</text></g>
<g transform="translate(228,881)"><ellipse rx="31" ry="10" class="P"/><text y="3">BD+36°2219</text></g>
</g>
<g class="l">
<g transform="translate(1217,62)"><rect x="-7" y="-6" width="14" height="11"/><text y="3">2.1</text></g>
<g transform="translate(1182,62)"><rect x="-7" y="-6" width="14" height="11"/><text y="3">2.4</text></g>
<g transform="translate(1259,63)"><rect x="-7" y="-6" width="14" height="11"/><text y="3">1.3</text></g>
<g transform="translate(1224,116)"><rect x="-7" y="-6" width="14" height="11"/><text y="3">1.5</text></g>
<g transform="translate(1150,117)"><rect x="-7" y="-6" width="14" height="11"/><text y="3">1.3</text></g>
<g transform="translate(1292,64)"><rect x="-7" y="-6" width="14" height="11"/><text y="3">1.8</text></g>
<g transform="translate(1342,60)"><rect x="-7" y="-6" width="14" height="11"/><text y="3">1.7</text></g>
<g transform="translate(1383,82)"><rect x="-7" y="-6" width="14" height="11"/><text y="3">1.6</text></g>
<g transform="translate(1346,112)"><rect x="-7" y="-6" width="14" height="11"/><text y="3">2.1</text></g>
<g transform="translate(1432,115)"><rect x="-7" y="-6" width="14" height="11"/><text y="3">1.5</text></g>
<g transform="translate(1465,137)"><rect x="-7" y="-6" width="14" height="11"/><text y="3">0.6</text></g>
<g transform="translate(1419,157)"><rect x="-7" y="-6" width="14" height="11"/><text y="3">1.4</text></g>
<g transform="translate(1403,172)"><rect x="-7" y="-6" width="14" height="11"/><text y="3">1.4</text></g>
<g transform="translate(906,120)"><rect x="-7" y="-6" width="14" height="11"/><text y="3">1.0</text></g>
<g transform="translate(939,96)"><rect x="-7" y="-6" width="14" height="11"/><text y="3">1.4</text></g>
<g transform="translate(937,131)"><rect x="-7" y="-6" width="14" height="11"/><text y="3">2.1</text></g>
<g transform="translate(1000,125)"><rect x="-7" y="-6" width="14" height="11"/><text y="3">3.0</text></g>
<g transform="translate(988,146)"><rect x="-7" y="-6" width="14" height="11"/><text y="3">1.6</text></g>
<g transform="translate(1055,118)"><rect x="-7" y="-6" width="14" height="11"/><text y="3">1.6</text></g>
<g transform="translate(1104,120)"><rect x="-7" y="-6" width="14" height="11"/><text y="3">1.2</text></g>
<g transform="translate(1079,145)"><rect x="-7" y="-6" width="14" height="11"/><text y="3">1.1</text></g>
<g transform="translate(1117,172)"><rect x="-7" y="-6" width="14" height="11"/><text y="3">1.9</text></g>
<g transform="translate(1159,171)"><rect x="-7" y="-6" width="14" height="11"/><text y="3">2.1</text></g>
<g transform="translate(1199,170)"><rect x="-7" y="-6" width="14" height="11"/><text y="3">1.7</text></g>
<g transform="translate(1148,196)"><rect x="-7" y="-6" width="14" height="11"/><text y="3">1.1</text></g>
<g transform="translate(678,165)"><rect x="-7" y="-6" width="14" height="11"/><text y="3">2.0</text></g>
<g transform="translate(731,190)"><rect x="-7" y="-6" width="14" height="11"/><text y="3">1.7</text></g>
<g transform="translate(665,208)"><rect x="-7" y="-6" width="14" height="11"/><text y="3">2.5</text></g>
<g transform="translate(678,237)"><rect x="-7" y="-6" width="14" height="11"/><text y="3">0.7</text></g>
<g transform="translate(744,220)"><rect x="-7" y="-6" width="14" height="11"/><text y="3">2.9</text></g>
<g transform="translate(823,163)"><rect x="-7" y="-6" width="14" height="11"/><text y="3">1.4</text></g>
<g transform="translate(878,195)"><rect x="-7" y="-6" width="14" height="11"/><text y="3">2.2</text></g>
<g transform="translate(886,210)"><rect x="-7" y="-6" width="14" height="11"/><text y="3">2.5</text></g>
<g transform="translate(970,209)"><rect x="-7" y="-6" width="14" height="11"/><text y="3">1.3</text></g>
<g transform="translate(1034,246)"><rect x="-7" y="-6" width="14" height="11"/><text y="3">1.8</text></g>
<g transform="translate(972,256)"><rect x="-7" y="-6" width="14" height="11"/><text y="3">1.6</text></g>
<g transform="translate(993,281)"><rect x="-7" y="-6" width="14" height="11"/><text y="3">1.6</text></g>
<g transform="translate(1039,300)"><rect x="-7" y="-6" width="14" height="11"/><text y="3">3.4</text></g>
<g transform="translate(1078,280)"><rect x="-7" y="-6" width="14" height="11"/><text y="3">2.9</text></g>
<g transform="translate(847,297)"><rect x="-7" y="-6" width="14" height="11"/><text y="3">2.0</text></g>
<g transform="translate(778,298)"><rect x="-7" y="-6" width="14" height="11"/><text y="3">2.1</text></g>
<g transform="translate(673,274)"><rect x="-7" y="-6" width="14" height="11"/><text y="3">1.9</text></g>
<g transform="translate(713,298)"><rect x="-7" y="-6" width="14" height="11"/><text y="3">1.7</text></g>
<g transform="translate(656,306)"><rect x="-7" y="-6" width="14" height="11"/><text y="3">2.3</text></g>
<g transform="translate(573,290)"><rect x="-7" y="-6" width="14" height="11"/><text y="3">1.4</text></g>
<g transform="translate(534,261)"><rect x="-7" y="-6" width="14" height="11"/><text y="3">1.1</text></g>
<g transform="translate(578,254)"><rect x="-7" y="-6" width="14" height="11"/><text y="3">1.0</text></g>
<g transform="translate(527,336)"><rect x="-7" y="-6" width="14" height="11"/><text y="3">2.2</text></g>
<g transform="translate(488,354)"><rect x="-7" y="-6" width="14" height="11"/><text y="3">4.0</text></g>
<g transform="translate(447,377)"><rect x="-7" y="-6" width="14" height="11"/><text y="3">2.5</text></g>
<g transform="translate(481,390)"><rect x="-7" y="-6" width="14" height="11"/><text y="3">2.1</text></g>
<g transform="translate(508,403)"><rect x="-7" y="-6" width="14" height="11"/><text y="3">2.9</text></g>
<g transform="translate(489,468)"><rect x="-7" y="-6" width="14" height="11"/><text y="3">1.6</text></g>
<g transform="translate(930,362)"><rect x="-7" y="-6" width="14" height="11"/><text y="3">1.8</text></g>
<g transform="translate(978,344)"><rect x="-7" y="-6" width="14" height="11"/><text y="3">2.8</text></g>
<g transform="translate(1157,259)"><rect x="-7" y="-6" width="14" height="11"/><text y="3">2.8</text></g>
<g transform="translate(1266,256)"><rect x="-7" y="-6" width="14" height="11"/><text y="3">3.2</text></g>
<g transform="translate(1354,200)"><rect x="-7" y="-6" width="14" height="11"/><text y="3">2.8</text></g>
<g transform="translate(1335,255)"><rect x="-7" y="-6" width="14" height="11"/><text y="3">1.2</text></g>
<g transform="translate(1370,242)"><rect x="-7" y="-6" width="14" height="11"/><text y="3">3.0</text></g>
<g transform="translate(1374,280)"><rect x="-7" y="-6" width="14" height="11"/><text y="3">1.9</text></g>
<g transform="translate(1451,242)"><rect x="-7" y="-6" width="14" height="11"/><text y="3">2.9</text></g>
<g transform="translate(1522,266)"><rect x="-7" y="-6" width="14" height="11"/><text y="3">1.7</text></g>
<g transform="translate(1466,284)"><rect x="-7" y="-6" width="14" height="11"/><text y="3">3.2</text></g>
<g transform="translate(1433,289)"><rect x="-7" y="-6" width="14" height="11"/><text y="3">1.5</text></g>
<g transform="translate(1432,336)"><rect x="-7" y="-6" width="14" height="11"/><text y="3">2.2</text></g>
<g transform="translate(1373,314)"><rect x="-7" y="-6" width="14" height="11"/><text y="3">2.8</text></g>
<g transform="translate(1403,361)"><rect x="-7" y="-6" width="14" height="11"/><text y="3">1.4</text></g>
<g transform="translate(1472,366)"><rect x="-7" y="-6" width="14" height="11"/><text y="3">1.6</text></g>
<g transform="translate(1506,358)"><rect x="-7" y="-6" width="14" height="11"/><text y="3">1.8</text></g>
<g transform="translate(1405,452)"><rect x="-7" y="-6" width="14" height="11"/><text y="3">2.5</text></g>
<g transform="translate(1305,432)"><rect x="-7" y="-6" width="14" height="11"/><text y="3">1.7</text></g>
<g transform="translate(1230,342)"><rect x="-7" y="-6" width="14" height="11"/><text y="3">1.9</text></g>
<g transform="translate(1258,342)"><rect x="-7" y="-6" width="14" height="11"/><text y="3">2.3</text></g>
<g transform="translate(1289,340)"><rect x="-7" y="-6" width="14" height="11"/><text y="3">0.9</text></g>
<g transform="translate(1267,389)"><rect x="-7" y="-6" width="14" height="11"/><text y="3">2.2</text></g>
<g transform="translate(1270,461)"><rect x="-7" y="-6" width="14" height="11"/><text y="3">2.5</text></g>
<g transform="translate(1148,361)"><rect x="-7" y="-6" width="14" height="11"/><text y="3">2.1</text></g>
<g transform="translate(1156,452)"><rect x="-7" y="-6" width="14" height="11"/><text y="3">1.7</text></g>
<g transform="translate(1187,443)"><rect x="-7" y="-6" width="14" height="11"/><text y="3">2.9</text></g>
<g transform="translate(1183,475)"><rect x="-7" y="-6" width="14" height="11"/><text y="3">1.8</text></g>
<g transform="translate(1364,437)"><rect x="-7" y="-6" width="14" height="11"/><text y="3">1.3</text></g>
<g transform="translate(1332,552)"><rect x="-7" y="-6" width="14" height="11"/><text y="3">2.1</text></g>
<g transform="translate(1337,502)"><rect x="-7" y="-6" width="14" height="11"/><text y="3">0.9</text></g>
<g transform="translate(887,404)"><rect x="-7" y="-6" width="14" height="11"/><text y="3">1.9</text></g>
<g transform="translate(1002,427)"><rect x="-7" y="-6" width="14" height="11"/><text y="3">2.7</text></g>
<g transform="translate(1016,494)"><rect x="-7" y="-6" width="14" height="11"/><text y="3">1.1</text></g>
<g transform="translate(1084,463)"><rect x="-7" y="-6" width="14" height="11"/><text y="3">1.2</text></g>
<g transform="translate(1042,487)"><rect x="-7" y="-6" width="14" height="11"/><text y="3">2.8</text></g>
<g transform="translate(922,479)"><rect x="-7" y="-6" width="14" height="11"/><text y="3">1.0</text></g>
<g transform="translate(897,449)"><rect x="-7" y="-6" width="14" height="11"/><text y="3">1.9</text></g>
<g transform="translate(966,493)"><rect x="-7" y="-6" width="14" height="11"/><text y="3">2.9</text></g>
<g transform="translate(890,501)"><rect x="-7" y="-6" width="14" height="11"/><text y="3">1.6</text></g>
<g transform="translate(855,516)"><rect x="-7" y="-6" width="14" height="11"/><text y="3">1.3</text></g>
<g transform="translate(965,562)"><rect x="-7" y="-6" width="14" height="11"/><text y="3">2.1</text></g>
<g transform="translate(1088,519)"><rect x="-7" y="-6" width="14" height="11"/><text y="3">2.7</text></g>
<g transform="translate(1180,584)"><rect x="-7" y="-6" width="14" height="11"/><text y="3">2.8</text></g>
<g transform="translate(1101,585)"><rect x="-7" y="-6" width="14" height="11"/><text y="3">1.0</text></g>
<g transform="translate(1185,613)"><rect x="-7" y="-6" width="14" height="11"/><text y="3">2.2</text></g>
<g transform="translate(788,492)"><rect x="-7" y="-6" width="14" height="11"/><text y="3">1.8</text></g>
<g transform="translate(829,546)"><rect x="-7" y="-6" width="14" height="11"/><text y="3">1.8</text></g>
<g transform="translate(772,521)"><rect x="-7" y="-6" width="14" height="11"/><text y="3">3.1</text></g>
<g transform="translate(745,540)"><rect x="-7" y="-6" width="14" height="11"/><text y="3">2.9</text></g>
<g transform="translate(808,602)"><rect x="-7" y="-6" width="14" height="11"/><text y="3">1.5</text></g>
<g transform="translate(781,620)"><rect x="-7" y="-6" width="14" height="11"/><text y="3">1.4</text></g>
<g transform="translate(744,600)"><rect x="-7" y="-6" width="14" height="11"/><text y="3">0.5</text></g>
<g transform="translate(855,645)"><rect x="-7" y="-6" width="14" height="11"/><text y="3">1.9</text></g>
<g transform="translate(691,594)"><rect x="-7" y="-6" width="14" height="11"/><text y="3">2.2</text></g>
<g transform="translate(654,585)"><rect x="-7" y="-6" width="14" height="11"/><text y="3">2.0</text></g>
<g transform="translate(735,654)"><rect x="-7" y="-6" width="14" height="11"/><text y="3">2.0</text></g>
<g transform="translate(734,672)"><rect x="-7" y="-6" width="14" height="11"/><text y="3">2.0</text></g>
<g transform="translate(701,687)"><rect x="-7" y="-6" width="14" height="11"/><text y="3">0.6</text></g>
<g transform="translate(764,693)"><rect x="-7" y="-6" width="14" height="11"/><text y="3">1.9</text></g>
<g transform="translate(830,672)"><rect x="-7" y="-6" width="14" height="11"/><text y="3">1.3</text></g>
<g transform="translate(946,706)"><rect x="-7" y="-6" width="14" height="11"/><text y="3">3.4</text></g>
<g transform="translate(981,655)"><rect x="-7" y="-6" width="14" height="11"/><text y="3">2.3</text></g>
<g transform="translate(812,731)"><rect x="-7" y="-6" width="14" height="11"/><text y="3">1.7</text></g>
<g transform="translate(873,746)"><rect x="-7" y="-6" width="14" height="11"/><text y="3">3.5</text></g>
<g transform="translate(672,738)"><rect x="-7" y="-6" width="14" height="11"/><text y="3">2.8</text></g>
<g transform="translate(1036,661)"><rect x="-7" y="-6" width="14" height="11"/><text y="3">1.3</text></g>
<g transform="translate(1033,691)"><rect x="-7" y="-6" width="14" height="11"/><text y="3">1.9</text></g>
<g transform="translate(1037,624)"><rect x="-7" y="-6" width="14" height="11"/><text y="3">1.5</text></g>
<g transform="translate(1124,660)"><rect x="-7" y="-6" width="14" height="11"/><text y="3">1.5</text></g>
<g transform="translate(1122,690)"><rect x="-7" y="-6" width="14" height="11"/><text y="3">1.3</text></g>
<g transform="translate(1102,711)"><rect x="-7" y="-6" width="14" height="11"/><text y="3">1.3</text></g>
<g transform="translate(1232,676)"><rect x="-7" y="-6" width="14" height="11"/><text y="3">2.6</text></g>
<g transform="translate(1208,692)"><rect x="-7" y="-6" width="14" height="11"/><text y="3">0.4</text></g>
<g transform="translate(1203,718)"><rect x="-7" y="-6" width="14" height="11"/><text y="3">1.6</text></g>
<g transform="translate(1235,732)"><rect x="-7" y="-6" width="14" height="11"/><text y="3">1.9</text></g>
<g transform="translate(1272,731)"><rect x="-7" y="-6" width="14" height="11"/><text y="3">1.6</text></g>
<g transform="translate(1266,757)"><rect x="-7" y="-6" width="14" height="11"/><text y="3">1.0</text></g>
<g transform="translate(1198,767)"><rect x="-7" y="-6" width="14" height="11"/><text y="3">2.0</text></g>
<g transform="translate(1125,749)"><rect x="-7" y="-6" width="14" height="11"/><text y="3">2.0</text></g>
<g transform="translate(1151,748)"><rect x="-7" y="-6" width="14" height="11"/><text y="3">1.3</text></g>
<g transform="translate(1147,800)"><rect x="-7" y="-6" width="14" height="11"/><text y="3">1.1</text></g>
<g transform="translate(1247,785)"><rect x="-7" y="-6" width="14" height="11"/><text y="3">2.1</text></g>
<g transform="translate(1286,782)"><rect x="-7" y="-6" width="14" height="11"/><text y="3">1.4</text></g>
<g transform="translate(1257,848)"><rect x="-7" y="-6" width="14" height="11"/><text y="3">1.4</text></g>
<g transform="translate(1176,853)"><rect x="-7" y="-6" width="14" height="11"/><text y="3">1.7</text></g>
<g transform="translate(1139,857)"><rect x="-7" y="-6" width="14" height="11"/><text y="3">2.6</text></g>
<g transform="translate(1100,859)"><rect x="-7" y="-6" width="14" height="11"/><text y="3">1.2</text></g>
<g transform="translate(1045,860)"><rect x="-7" y="-6" width="14" height="11"/><text y="3">2.5</text></g>
<g transform="translate(1073,860)"><rect x="-7" y="-6" width="14" height="11"/><text y="3">1.8</text></g>
<g transform="translate(1051,912)"><rect x="-7" y="-6" width="14" height="11"/><text y="3">2.9</text></g>
<g transform="translate(1188,914)"><rect x="-7" y="-6" width="14" height="11"/><text y="3">1.2</text></g>
<g transform="translate(1228,909)"><rect x="-7" y="-6" width="14" height="11"/><text y="3">2.5</text></g>
<g transform="translate(1166,968)"><rect x="-7" y="-6" width="14" height="11"/><text y="3">1.4</text></g>
<g transform="translate(1130,968)"><rect x="-7" y="-6" width="14" height="11"/><text y="3">2.6</text></g>
<g transform="translate(1254,964)"><rect x="-7" y="-6" width="14" height="11"/><text y="3">2.0</text></g>
<g transform="translate(1310,901)"><rect x="-7" y="-6" width="14" height="11"/><text y="3">2.3</text></g>
<g transform="translate(1347,836)"><rect x="-7" y="-6" width="14" height="11"/><text y="3">2.3</text></g>
<g transform="translate(1410,776)"><rect x="-7" y="-6" width="14" height="11"/><text y="3">0.8</text></g>
<g transform="translate(1419,727)"><rect x="-7" y="-6" width="14" height="11"/><text y="3">2.4</text></g>
<g transform="translate(1367,700)"><rect x="-7" y="-6" width="14" height="11"/><text y="3">2.0</text></g>
<g transform="translate(1354,673)"><rect x="-7" y="-6" width="14" height="11"/><text y="3">2.0</text></g>
<g transform="translate(1393,675)"><rect x="-7" y="-6" width="14" height="11"/><text y="3">1.8</text></g>
<g transform="translate(1441,701)"><rect x="-7" y="-6" width="14" height="11"/><text y="3">1.7</text></g>
<g transform="translate(1425,670)"><rect x="-7" y="-6" width="14" height="11"/><text y="3">0.9</text></g>
<g transform="translate(1463,668)"><rect x="-7" y="-6" width="14" height="11"/><text y="3">2.1</text></g>
<g transform="translate(1450,610)"><rect x="-7" y="-6" width="14" height="11"/><text y="3">2.1</text></g>
<g transform="translate(1427,587)"><rect x="-7" y="-6" width="14" height="11"/><text y="3">1.9</text></g>
<g transform="translate(1419,608)"><rect x="-7" y="-6" width="14" height="11"/><text y="3">1.6</text></g>
<g transform="translate(965,912)"><rect x="-7" y="-6" width="14" height="11"/><text y="3">2.4</text></g>
<g transform="translate(1027,914)"><rect x="-7" y="-6" width="14" height="11"/><text y="3">1.6</text></g>
<g transform="translate(1002,932)"><rect x="-7" y="-6" width="14" height="11"/><text y="3">1.5</text></g>
<g transform="translate(983,956)"><rect x="-7" y="-6" width="14" height="11"/><text y="3">3.1</text></g>
<g transform="translate(970,993)"><rect x="-7" y="-6" width="14" height="11"/><text y="3">2.0</text></g>
<g transform="translate(882,968)"><rect x="-7" y="-6" width="14" height="11"/><text y="3">2.1</text></g>
<g transform="translate(913,982)"><rect x="-7" y="-6" width="14" height="11"/><text y="3">2.4</text></g>
<g transform="translate(838,1021)"><rect x="-7" y="-6" width="14" height="11"/><text y="3">0.9</text></g>
<g transform="translate(806,1006)"><rect x="-7" y="-6" width="14" height="11"/><text y="3">1.0</text></g>
<g transform="translate(893,1007)"><rect x="-7" y="-6" width="14" height="11"/><text y="3">1.5</text></g>
<g transform="translate(1010,1014)"><rect x="-7" y="-6" width="14" height="11"/><text y="3">1.6</text></g>
<g transform="translate(878,1114)"><rect x="-7" y="-6" width="14" height="11"/><text y="3">1.5</text></g>
<g transform="translate(862,1147)"><rect x="-7" y="-6" width="14" height="11"/><text y="3">1.9</text></g>
<g transform="translate(905,1150)"><rect x="-7" y="-6" width="14" height="11"/><text y="3">2.2</text></g>
<g transform="translate(943,1155)"><rect x="-7" y="-6" width="14" height="11"/><text y="3">1.2</text></g>
<g transform="translate(981,1154)"><rect x="-7" y="-6" width="14" height="11"/><text y="3">2.4</text></g>
<g transform="translate(813,1178)"><rect x="-7" y="-6" width="14" height="11"/><text y="3">1.4</text></g>
<g transform="translate(896,1183)"><rect x="-7" y="-6" width="14" height="11"/><text y="3">2.7</text></g>
<g transform="translate(968,1183)"><rect x="-7" y="-6" width="14" height="11"/><text y="3">1.5</text></g>
<g transform="translate(785,783)"><rect x="-7" y="-6" width="14" height="11"/><text y="3">1.0</text></g>
<g transform="translate(744,799)"><rect x="-7" y="-6" width="14" height="11"/><text y="3">2.9</text></g>
<g transform="translate(658,783)"><rect x="-7" y="-6" width="14" height="11"/><text y="3">1.8</text></g>
<g transform="translate(624,755)"><rect x="-7" y="-6" width="14" height="11"/><text y="3">3.1</text></g>
<g transform="translate(927,778)"><rect x="-7" y="-6" width="14" height="11"/><text y="3">2.7</text></g>
<g transform="translate(873,842)"><rect x="-7" y="-6" width="14" height="11"/><text y="3">2.3</text></g>
<g transform="translate(841,862)"><rect x="-7" y="-6" width="14" height="11"/><text y="3">2.5</text></g>
<g transform="translate(916,839)"><rect x="-7" y="-6" width="14" height="11"/><text y="3">2.6</text></g>
<g transform="translate(802,876)"><rect x="-7" y="-6" width="14" height="11"/><text y="3">2.5</text></g>
<g transform="translate(769,899)"><rect x="-7" y="-6" width="14" height="11"/><text y="3">1.2</text></g>
<g transform="translate(735,900)"><rect x="-7" y="-6" width="14" height="11"/><text y="3">0.4</text></g>
<g transform="translate(700,914)"><rect x="-7" y="-6" width="14" height="11"/><text y="3">2.6</text></g>
<g transform="translate(769,937)"><rect x="-7" y="-6" width="14" height="11"/><text y="3">1.1</text></g>
<g transform="translate(700,953)"><rect x="-7" y="-6" width="14" height="11"/><text y="3">3.1</text></g>
<g transform="translate(621,848)"><rect x="-7" y="-6" width="14" height="11"/><text y="3">1.8</text></g>
<g transform="translate(612,882)"><rect x="-7" y="-6" width="14" height="11"/><text y="3">1.3</text></g>
<g transform="translate(647,872)"><rect x="-7" y="-6" width="14" height="11"/><text y="3">1.9</text></g>
<g transform="translate(547,820)"><rect x="-7" y="-6" width="14" height="11"/><text y="3">1.8</text></g>
<g transform="translate(549,840)"><rect x="-7" y="-6" width="14" height="11"/><text y="3">1.2</text></g>
<g transform="translate(476,836)"><rect x="-7" y="-6" width="14" height="11"/><text y="3">2.0</text></g>
<g transform="translate(368,817)"><rect x="-7" y="-6" width="14" height="11"/><text y="3">2.0</text></g>
<g transform="translate(487,770)"><rect x="-7" y="-6" width="14" height="11"/><text y="3">1.8</text></g>
<g transform="translate(438,742)"><rect x="-7" y="-6" width="14" height="11"/><text y="3">2.0</text></g>
<g transform="translate(515,793)"><rect x="-7" y="-6" width="14" height="11"/><text y="3">1.3</text></g>
<g transform="translate(404,847)"><rect x="-7" y="-6" width="14" height="11"/><text y="3">1.6</text></g>
<g transform="translate(365,880)"><rect x="-7" y="-6" width="14" height="11"/><text y="3">1.7</text></g>
<g transform="translate(324,902)"><rect x="-7" y="-6" width="14" height="11"/><text y="3">2.1</text></g>
<g transform="translate(395,946)"><rect x="-7" y="-6" width="14" height="11"/><text y="3">1.2</text></g>
<g transform="translate(490,873)"><rect x="-7" y="-6" width="14" height="11"/><text y="3">1.2</text></g>
<g transform="translate(470,906)"><rect x="-7" y="-6" width="14" height="11"/><text y="3">2.0</text></g>
<g transform="translate(499,899)"><rect x="-7" y="-6" width="14" height="11"/><text y="3">2.3</text></g>
<g transform="translate(445,953)"><rect x="-7" y="-6" width="14" height="11"/><text y="3">1.6</text></g>
<g transform="translate(444,987)"><rect x="-7" y="-6" width="14" height="11"/><text y="3">1.5</text></g>
<g transform="translate(486,975)"><rect x="-7" y="-6" width="14" height="11"/><text y="3">1.8</text></g>
<g transform="translate(486,1011)"><rect x="-7" y="-6" width="14" height="11"/><text y="3">0.4</text></g>
<g transform="translate(533,1010)"><rect x="-7" y="-6" width="14" height="11"/><text y="3">1.1</text></g>
<g transform="translate(446,1047)"><rect x="-7" y="-6" width="14" height="11"/><text y="3">1.4</text></g>
<g transform="translate(420,1078)"><rect x="-7" y="-6" width="14" height="11"/><text y="3">1.6</text></g>
<g transform="translate(468,1078)"><rect x="-7" y="-6" width="14" height="11"/><text y="3">1.6</text></g>
<g transform="translate(583,1033)"><rect x="-7" y="-6" width="14" height="11"/><text y="3">1.5</text></g>
<g transform="translate(690,1021)"><rect x="-7" y="-6" width="14" height="11"/><text y="3">1.0</text></g>
<g transform="translate(624,1052)"><rect x="-7" y="-6" width="14" height="11"/><text y="3">1.1</text></g>
<g transform="translate(672,1052)"><rect x="-7" y="-6" width="14" height="11"/><text y="3">1.6</text></g>
<g transform="translate(594,1120)"><rect x="-7" y="-6" width="14" height="11"/><text y="3">2.6</text></g>
<g transform="translate(300,995)"><rect x="-7" y="-6" width="14" height="11"/><text y="3">1.0</text></g>
<g transform="translate(333,1077)"><rect x="-7" y="-6" width="14" height="11"/><text y="3">1.6</text></g>
<g transform="translate(408,1145)"><rect x="-7" y="-6" width="14" height="11"/><text y="3">2.8</text></g>
<g transform="translate(514,1167)"><rect x="-7" y="-6" width="14" height="11"/><text y="3">1.1</text></g>
<g transform="translate(506,1190)"><rect x="-7" y="-6" width="14" height="11"/><text y="3">2.1</text></g>
<g transform="translate(595,1217)"><rect x="-7" y="-6" width="14" height="11"/><text y="3">2.4</text></g>
<g transform="translate(632,1196)"><rect x="-7" y="-6" width="14" height="11"/><text y="3">2.3</text></g>
<g transform="translate(669,1225)"><rect x="-7" y="-6" width="14" height="11"/><text y="3">2.0</text></g>
<g transform="translate(668,1199)"><rect x="-7" y="-6" width="14" height="11"/><text y="3">1.0</text></g>
<g transform="translate(666,1168)"><rect x="-7" y="-6" width="14" height="11"/><text y="3">2.4</text></g>
<g transform="translate(702,1201)"><rect x="-7" y="-6" width="14" height="11"/><text y="3">3.0</text></g>
<g transform="translate(386,722)"><rect x="-7" y="-6" width="14" height="11"/><text y="3">1.5</text></g>
<g transform="translate(425,507)"><rect x="-7" y="-6" width="14" height="11"/><text y="3">2.4</text></g>
<g transform="translate(410,583)"><rect x="-7" y="-6" width="14" height="11"/><text y="3">2.2</text></g>
<g transform="translate(393,565)"><rect x="-7" y="-6" width="14" height="11"/><text y="3">1.8</text></g>
<g transform="translate(313,606)"><rect x="-7" y="-6" width="14" height="11"/><text y="3">1.3</text></g>
<g transform="translate(333,638)"><rect x="-7" y="-6" width="14" height="11"/><text y="3">0.8</text></g>
<g transform="translate(335,663)"><rect x="-7" y="-6" width="14" height="11"/><text y="3">1.9</text></g>
<g transform="translate(336,542)"><rect x="-7" y="-6" width="14" height="11"/><text y="3">1.2</text></g>
<g transform="translate(272,565)"><rect x="-7" y="-6" width="14" height="11"/><text y="3">2.3</text></g>
<g transform="translate(232,589)"><rect x="-7" y="-6" width="14" height="11"/><text y="3">1.3</text></g>
<g transform="translate(205,561)"><rect x="-7" y="-6" width="14" height="11"/><text y="3">1.4</text></g>
<g transform="translate(213,621)"><rect x="-7" y="-6" width="14" height="11"/><text y="3">1.4</text></g>
<g transform="translate(340,463)"><rect x="-7" y="-6" width="14" height="11"/><text y="3">2.7</text></g>
<g transform="translate(219,694)"><rect x="-7" y="-6" width="14" height="11"/><text y="3">3.0</text></g>
<g transform="translate(86,707)"><rect x="-7" y="-6" width="14" height="11"/><text y="3">4.1</text></g>
<g transform="translate(103,741)"><rect x="-7" y="-6" width="14" height="11"/><text y="3">1.6</text></g>
<g transform="translate(145,746)"><rect x="-7" y="-6" width="14" height="11"/><text y="3">2.8</text></g>
<g transform="translate(175,751)"><rect x="-7" y="-6" width="14" height="11"/><text y="3">1.9</text></g>
<g transform="translate(211,804)"><rect x="-7" y="-6" width="14" height="11"/><text y="3">0.7</text></g>
<g transform="translate(288,756)"><rect x="-7" y="-6" width="14" height="11"/><text y="3">2.4</text></g>
<g transform="translate(256,800)"><rect x="-7" y="-6" width="14" height="11"/><text y="3">2.6</text></g>
<g transform="translate(320,706)"><rect x="-7" y="-6" width="14" height="11"/><text y="3">1.7</text></g>
<g transform="translate(259,505)"><rect x="-7" y="-6" width="14" height="11"/><text y="3">1.3</text></g>
<g transform="translate(573,494)"><rect x="-7" y="-6" width="14" height="11"/><text y="3">1.5</text></g>
<g transform="translate(626,434)"><rect x="-7" y="-6" width="14" height="11"/><text y="3">0.8</text></g>
<g transform="translate(590,421)"><rect x="-7" y="-6" width="14" height="11"/><text y="3">2.0</text></g>
<g transform="translate(620,474)"><rect x="-7" y="-6" width="14" height="11"/><text y="3">1.7</text></g>
<g transform="translate(678,494)"><rect x="-7" y="-6" width="14" height="11"/><text y="3">1.1</text></g>
<g transform="translate(542,444)"><rect x="-7" y="-6" width="14" height="11"/><text y="3">1.4</text></g>
<g transform="translate(678,545)"><rect x="-7" y="-6" width="14" height="11"/><text y="3">1.9</text></g>
<g transform="translate(591,553)"><rect x="-7" y="-6" width="14" height="11"/><text y="3">0.8</text></g>
<g transform="translate(566,595)"><rect x="-7" y="-6" width="14" height="11"/><text y="3">2.5</text></g>
<g transform="translate(613,645)"><rect x="-7" y="-6" width="14" height="11"/><text y="3">1.3</text></g>
<g transform="translate(450,603)"><rect x="-7" y="-6" width="14" height="11"/><text y="3">0.8</text></g>
<g transform="translate(548,675)"><rect x="-7" y="-6" width="14" height="11"/><text y="3">2.8</text></g>
<g transform="translate(483,601)"><rect x="-7" y="-6" width="14" height="11"/><text y="3">1.5</text></g>
<g transform="translate(533,643)"><rect x="-7" y="-6" width="14" height="11"/><text y="3">3.7</text></g>
<g transform="translate(479,652)"><rect x="-7" y="-6" width="14" height="11"/><text y="3">3.4</text></g>
<g transform="translate(725,367)"><rect x="-7" y="-6" width="14" height="11"/><text y="3">1.7</text></g>
<g transform="translate(784,387)"><rect x="-7" y="-6" width="14" height="11"/><text y="3">1.1</text></g>
<g transform="translate(672,400)"><rect x="-7" y="-6" width="14" height="11"/><text y="3">1.6</text></g>
</g>
<g class="L">
<g transform="translate(774,128)"><rect x="-7" y="-6" width="14" height="11"/><text y="3">2.4</text></g>
<g transform="translate(744,147)"><rect x="-7" y="-6" width="14" height="11"/><text y="3">1.5</text></g>
<g transform="translate(790,155)"><rect x="-7" y="-6" width="14" height="11"/><text y="3">3.1</text></g>
<g transform="translate(863,145)"><rect x="-7" y="-6" width="14" height="11"/><text y="3">3.9</text></g>
<g transform="translate(963,172)"><rect x="-7" y="-6" width="14" height="11"/><text y="3">1.3</text></g>
<g transform="translate(1056,191)"><rect x="-7" y="-6" width="14" height="11"/><text y="3">4.1</text></g>
<g transform="translate(1103,242)"><rect x="-7" y="-6" width="14" height="11"/><text y="3">6.2</text></g>
<g transform="translate(1208,286)"><rect x="-7" y="-6" width="14" height="11"/><text y="3">2.5</text></g>
<g transform="translate(1120,386)"><rect x="-7" y="-6" width="14" height="11"/><text y="3">3.8</text></g>
<g transform="translate(1368,395)"><rect x="-7" y="-6" width="14" height="11"/><text y="3">3.7</text></g>
<g transform="translate(1361,439)"><rect x="-7" y="-6" width="14" height="11"/><text y="3">6.1</text></g>
<g transform="translate(1404,550)"><rect x="-7" y="-6" width="14" height="11"/><text y="3">5.2</text></g>
<g transform="translate(1273,541)"><rect x="-7" y="-6" width="14" height="11"/><text y="3">3.3</text></g>
<g transform="translate(1090,499)"><rect x="-7" y="-6" width="14" height="11"/><text y="3">5.3</text></g>
<g transform="translate(994,472)"><rect x="-7" y="-6" width="14" height="11"/><text y="3">5.4</text></g>
<g transform="translate(1055,550)"><rect x="-7" y="-6" width="14" height="11"/><text y="3">3.5</text></g>
<g transform="translate(853,444)"><rect x="-7" y="-6" width="14" height="11"/><text y="3">2.1</text></g>
<g transform="translate(961,581)"><rect x="-7" y="-6" width="14" height="11"/><text y="3">2.2</text></g>
<g transform="translate(1032,597)"><rect x="-7" y="-6" width="14" height="11"/><text y="3">1.9</text></g>
<g transform="translate(1000,641)"><rect x="-7" y="-6" width="14" height="11"/><text y="3">1.2</text></g>
<g transform="translate(1112,624)"><rect x="-7" y="-6" width="14" height="11"/><text y="3">3.0</text></g>
<g transform="translate(1111,661)"><rect x="-7" y="-6" width="14" height="11"/><text y="3">2.4</text></g>
<g transform="translate(645,330)"><rect x="-7" y="-6" width="14" height="11"/><text y="3">2.6</text></g>
<g transform="translate(690,354)"><rect x="-7" y="-6" width="14" height="11"/><text y="3">2.9</text></g>
<g transform="translate(541,418)"><rect x="-7" y="-6" width="14" height="11"/><text y="3">2.1</text></g>
<g transform="translate(657,418)"><rect x="-7" y="-6" width="14" height="11"/><text y="3">1.3</text></g>
<g transform="translate(745,394)"><rect x="-7" y="-6" width="14" height="11"/><text y="3">1.5</text></g>
<g transform="translate(713,397)"><rect x="-7" y="-6" width="14" height="11"/><text y="3">2.4</text></g>
<g transform="translate(703,423)"><rect x="-7" y="-6" width="14" height="11"/><text y="3">3.6</text></g>
<g transform="translate(772,414)"><rect x="-7" y="-6" width="14" height="11"/><text y="3">2.7</text></g>
<g transform="translate(731,442)"><rect x="-7" y="-6" width="14" height="11"/><text y="3">2.4</text></g>
<g transform="translate(762,439)"><rect x="-7" y="-6" width="14" height="11"/><text y="3">1.7</text></g>
<g transform="translate(787,437)"><rect x="-7" y="-6" width="14" height="11"/><text y="3">4.4</text></g>
<g transform="translate(831,490)"><rect x="-7" y="-6" width="14" height="11"/><text y="3">1.9</text></g>
<g transform="translate(602,506)"><rect x="-7" y="-6" width="14" height="11"/><text y="3">1.8</text></g>
<g transform="translate(571,516)"><rect x="-7" y="-6" width="14" height="11"/><text y="3">4.7</text></g>
<g transform="translate(482,538)"><rect x="-7" y="-6" width="14" height="11"/><text y="3">3.4</text></g>
<g transform="translate(564,550)"><rect x="-7" y="-6" width="14" height="11"/><text y="3">3.8</text></g>
<g transform="translate(637,601)"><rect x="-7" y="-6" width="14" height="11"/><text y="3">2.8</text></g>
<g transform="translate(553,625)"><rect x="-7" y="-6" width="14" height="11"/><text y="3">4.1</text></g>
<g transform="translate(626,702)"><rect x="-7" y="-6" width="14" height="11"/><text y="3">4.5</text></g>
<g transform="translate(582,714)"><rect x="-7" y="-6" width="14" height="11"/><text y="3">4.0</text></g>
<g transform="translate(541,721)"><rect x="-7" y="-6" width="14" height="11"/><text y="3">1.0</text></g>
<g transform="translate(597,735)"><rect x="-7" y="-6" width="14" height="11"/><text y="3">3.1</text></g>
<g transform="translate(659,756)"><rect x="-7" y="-6" width="14" height="11"/><text y="3">4.7</text></g>
<g transform="translate(404,748)"><rect x="-7" y="-6" width="14" height="11"/><text y="3">2.9</text></g>
<g transform="translate(511,764)"><rect x="-7" y="-6" width="14" height="11"/><text y="3">3.2</text></g>
<g transform="translate(434,801)"><rect x="-7" y="-6" width="14" height="11"/><text y="3">3.9</text></g>
<g transform="translate(260,839)"><rect x="-7" y="-6" width="14" height="11"/><text y="3">2.9</text></g>
<g transform="translate(299,576)"><rect x="-7" y="-6" width="14" height="11"/><text y="3">3.0</text></g>
<g transform="translate(358,573)"><rect x="-7" y="-6" width="14" height="11"/><text y="3">1.5</text></g>
<g transform="translate(391,607)"><rect x="-7" y="-6" width="14" height="11"/><text y="3">2.3</text></g>
<g transform="translate(237,776)"><rect x="-7" y="-6" width="14" height="11"/><text y="3">2.8</text></g>
<g transform="translate(310,653)"><rect x="-7" y="-6" width="14" height="11"/><text y="3">3.0</text></g>
<g transform="translate(403,680)"><rect x="-7" y="-6" width="14" height="11"/><text y="3">3.2</text></g>
<g transform="translate(146,681)"><rect x="-7" y="-6" width="14" height="11"/><text y="3">2.4</text></g>
<g transform="translate(140,798)"><rect x="-7" y="-6" width="14" height="11"/><text y="3">1.6</text></g>
<g transform="translate(587,835)"><rect x="-7" y="-6" width="14" height="11"/><text y="3">3.4</text></g>
<g transform="translate(578,913)"><rect x="-7" y="-6" width="14" height="11"/><text y="3">3.8</text></g>
<g transform="translate(649,996)"><rect x="-7" y="-6" width="14" height="11"/><text y="3">3.1</text></g>
<g transform="translate(569,1070)"><rect x="-7" y="-6" width="14" height="11"/><text y="3">2.8</text></g>
<g transform="translate(662,1091)"><rect x="-7" y="-6" width="14" height="11"/><text y="3">3.9</text></g>
<g transform="translate(757,1098)"><rect x="-7" y="-6" width="14" height="11"/><text y="3">3.4</text></g>
<g transform="translate(822,981)"><rect x="-7" y="-6" width="14" height="11"/><text y="3">2.1</text></g>
<g transform="translate(816,1040)"><rect x="-7" y="-6" width="14" height="11"/><text y="3">2.9</text></g>
<g transform="translate(937,914)"><rect x="-7" y="-6" width="14" height="11"/><text y="3">3.3</text></g>
<g transform="translate(922,889)"><rect x="-7" y="-6" width="14" height="11"/><text y="3">4.6</text></g>
<g transform="translate(774,840)"><rect x="-7" y="-6" width="14" height="11"/><text y="3">3.4</text></g>
<g transform="translate(963,847)"><rect x="-7" y="-6" width="14" height="11"/><text y="3">3.7</text></g>
<g transform="translate(1004,812)"><rect x="-7" y="-6" width="14" height="11"/><text y="3">4.7</text></g>
</g>
</svg>
</body></html>
